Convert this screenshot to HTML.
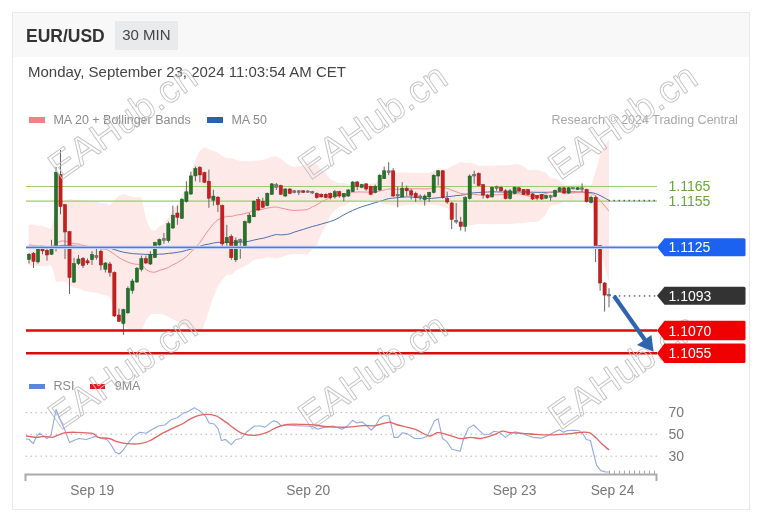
<!DOCTYPE html>
<html><head><meta charset="utf-8"><style>
*{margin:0;padding:0;box-sizing:border-box}
html,body{width:773px;height:518px;background:#fff;overflow:hidden;font-family:"Liberation Sans",Arial,sans-serif}
.card{position:absolute;left:12px;top:12px;width:738px;height:498px;border:1px solid #e9e9e9;background:#fff}
.hdr{position:absolute;left:13px;top:13px;width:736px;height:44px;background:#f8f8f9}
.t{position:absolute;white-space:nowrap;line-height:1}
svg{position:absolute;left:0;top:0}
svg text{font-family:"Liberation Sans",Arial,sans-serif}
</style></head><body>
<div class="card"></div>
<div class="hdr"></div>
<div class="t" style="left:115px;top:21px;width:63px;height:29px;background:#e9eaec"></div>
<div class="t" style="left:26px;top:28.3px;font-size:17.5px;font-weight:bold;color:#333">EUR/USD</div>
<div class="t" style="left:122.2px;top:26.8px;font-size:15px;color:#444">30 MIN</div>
<div class="t" style="left:28px;top:64.1px;font-size:15px;color:#444">Monday, September 23, 2024 11:03:54 AM CET</div>
<div class="t" style="left:29px;top:117px;width:16px;height:6px;background:#f08484"></div>
<div class="t" style="left:53.4px;top:113.5px;font-size:12.5px;color:#8a8a8a">MA 20 + Bollinger Bands</div>
<div class="t" style="left:207px;top:117px;width:16px;height:6px;background:#2b63aa"></div>
<div class="t" style="left:231.4px;top:113.5px;font-size:12.5px;color:#8a8a8a">MA 50</div>
<div class="t" style="left:551.5px;top:113.8px;font-size:12.5px;color:#a8a8a8">Research © 2024 Trading Central</div>
<div class="t" style="left:29px;top:383.8px;width:15.5px;height:5.5px;background:#5b86e0"></div>
<div class="t" style="left:53.6px;top:379.9px;font-size:12.5px;color:#8a8a8a">RSI</div>
<div class="t" style="left:89.7px;top:383.8px;width:15.8px;height:5.5px;background:#e8141c"></div>
<div class="t" style="left:114.7px;top:379.9px;font-size:12.5px;color:#8a8a8a">9MA</div>
<svg width="773" height="518" viewBox="0 0 773 518">
<defs><clipPath id="plot"><rect x="26" y="130" width="631" height="201"/></clipPath></defs>
<path d="M28.5,225.1 C28.6,225.1 28.2,225.2 29.0,225.1 C29.8,225.0 32.0,224.4 33.5,224.6 C35.0,224.7 36.5,225.7 38.0,225.9 C39.5,226.1 41.0,225.7 42.5,225.9 C44.0,226.2 45.5,227.2 47.0,227.4 C48.5,227.6 50.0,230.9 51.5,227.4 C53.0,223.8 54.5,210.5 56.0,206.1 C57.5,201.7 59.0,201.7 60.5,200.8 C62.0,199.9 63.5,200.9 65.0,200.6 C66.5,200.3 68.0,199.2 69.5,199.1 C71.0,198.9 72.5,199.7 74.0,199.8 C75.5,199.9 77.0,199.6 78.5,199.7 C80.0,199.9 81.5,200.5 83.0,200.6 C84.5,200.8 86.0,200.4 87.5,200.6 C89.0,200.8 90.5,201.6 92.0,201.8 C93.4,202.0 94.9,201.6 96.4,201.8 C97.9,202.1 99.4,202.9 100.9,203.2 C102.4,203.4 103.9,203.0 105.4,203.3 C106.9,203.5 108.4,205.3 109.9,204.7 C111.4,204.1 112.9,201.3 114.4,199.9 C115.9,198.4 117.4,196.8 118.9,195.9 C120.4,194.9 121.9,194.3 123.4,194.2 C124.9,194.2 126.4,195.0 127.9,195.4 C129.4,195.8 130.9,196.3 132.4,196.7 C133.9,197.0 135.4,197.2 136.9,197.4 C138.4,197.7 139.9,194.8 141.4,198.3 C142.9,201.7 144.4,212.9 145.9,218.0 C147.4,223.0 148.9,226.3 150.4,228.4 C151.9,230.6 153.4,231.0 154.9,230.7 C156.4,230.4 157.9,227.8 159.4,226.6 C160.9,225.4 162.4,225.1 163.9,223.6 C165.4,222.1 166.9,220.0 168.4,217.8 C169.9,215.6 171.4,212.6 172.9,210.3 C174.4,208.1 175.9,206.7 177.4,204.2 C178.9,201.7 180.4,198.4 181.9,195.3 C183.4,192.2 184.9,189.2 186.4,185.5 C187.9,181.8 189.4,177.2 190.9,173.0 C192.4,168.9 193.9,164.2 195.4,160.5 C196.9,156.9 198.4,153.2 199.9,151.0 C201.4,148.8 202.9,147.6 204.4,147.3 C205.9,147.0 207.4,148.4 208.9,149.0 C210.4,149.6 211.9,150.4 213.4,151.0 C214.9,151.6 216.4,151.9 217.9,152.7 C219.4,153.5 220.9,155.0 222.3,155.9 C223.8,156.7 225.3,157.6 226.8,158.0 C228.3,158.3 229.8,157.8 231.3,158.1 C232.8,158.4 234.3,159.3 235.8,159.8 C237.3,160.2 238.8,160.5 240.3,160.7 C241.8,160.9 243.3,161.0 244.8,161.1 C246.3,161.1 247.8,161.3 249.3,161.2 C250.8,161.1 252.3,160.8 253.8,160.7 C255.3,160.6 256.8,160.5 258.3,160.4 C259.8,160.3 261.3,160.4 262.8,160.1 C264.3,159.8 265.8,159.1 267.3,158.6 C268.8,158.0 270.3,157.2 271.8,156.8 C273.3,156.4 274.8,155.9 276.3,156.3 C277.8,156.6 279.3,157.8 280.8,158.8 C282.3,159.9 283.8,161.3 285.3,162.4 C286.8,163.5 288.3,164.6 289.8,165.4 C291.3,166.1 292.8,166.8 294.3,166.9 C295.8,167.1 297.3,166.5 298.8,166.3 C300.3,166.1 301.8,166.1 303.3,165.8 C304.8,165.5 306.3,164.8 307.8,164.6 C309.3,164.3 310.8,164.4 312.3,164.4 C313.8,164.5 315.3,163.8 316.8,164.7 C318.3,165.6 319.8,168.4 321.3,169.7 C322.8,171.1 324.3,171.4 325.8,173.0 C327.3,174.6 328.8,177.7 330.3,179.1 C331.8,180.4 333.3,180.5 334.8,181.2 C336.3,181.8 337.8,182.8 339.3,183.1 C340.8,183.4 342.3,182.8 343.8,183.0 C345.3,183.2 346.8,184.1 348.3,184.3 C349.8,184.5 351.2,184.2 352.7,184.0 C354.2,183.8 355.7,183.4 357.2,183.3 C358.7,183.2 360.2,183.4 361.7,183.5 C363.2,183.5 364.7,183.7 366.2,183.7 C367.7,183.8 369.2,183.8 370.7,183.7 C372.2,183.7 373.7,184.0 375.2,183.3 C376.7,182.7 378.2,181.1 379.7,179.8 C381.2,178.5 382.7,176.8 384.2,175.7 C385.7,174.5 387.2,173.3 388.7,172.9 C390.2,172.4 391.7,172.8 393.2,172.8 C394.7,172.8 396.2,172.8 397.7,172.8 C399.2,172.8 400.7,172.6 402.2,172.6 C403.7,172.6 405.2,172.7 406.7,172.7 C408.2,172.8 409.7,172.8 411.2,172.8 C412.7,172.8 414.2,172.8 415.7,172.8 C417.2,172.8 418.7,172.8 420.2,172.8 C421.7,172.8 423.2,172.8 424.7,172.8 C426.2,172.8 427.7,173.1 429.2,172.8 C430.7,172.5 432.2,171.7 433.7,171.0 C435.2,170.3 436.7,168.9 438.2,168.5 C439.7,168.2 441.2,168.9 442.7,168.9 C444.2,168.9 445.7,169.1 447.2,168.7 C448.7,168.2 450.2,167.1 451.7,166.3 C453.2,165.6 454.7,165.0 456.2,164.3 C457.7,163.5 459.2,162.3 460.7,162.0 C462.2,161.8 463.7,162.6 465.2,162.7 C466.7,162.8 468.2,162.6 469.7,162.8 C471.2,163.0 472.7,163.3 474.2,163.8 C475.7,164.3 477.2,165.5 478.7,165.8 C480.1,166.1 481.6,165.7 483.1,165.7 C484.6,165.7 486.1,165.8 487.6,165.8 C489.1,165.8 490.6,165.8 492.1,165.7 C493.6,165.7 495.1,165.6 496.6,165.5 C498.1,165.4 499.6,165.3 501.1,165.3 C502.6,165.2 504.1,165.3 505.6,165.3 C507.1,165.2 508.6,165.1 510.1,164.9 C511.6,164.8 513.1,164.5 514.6,164.3 C516.1,164.2 517.6,163.9 519.1,164.2 C520.6,164.6 522.1,165.5 523.6,166.5 C525.1,167.4 526.6,169.3 528.1,169.9 C529.6,170.5 531.1,169.9 532.6,169.9 C534.1,169.9 535.6,169.7 537.1,169.9 C538.6,170.1 540.1,170.5 541.6,171.1 C543.1,171.7 544.6,172.1 546.1,173.3 C547.6,174.5 549.1,177.6 550.6,178.4 C552.1,179.3 553.6,177.9 555.1,178.3 C556.6,178.7 558.1,179.8 559.6,180.8 C561.1,181.8 562.6,183.8 564.1,184.4 C565.6,185.1 567.1,184.9 568.6,184.9 C570.1,184.9 571.6,184.6 573.1,184.4 C574.6,184.2 576.1,183.9 577.6,183.9 C579.1,183.9 580.6,184.2 582.1,184.2 C583.6,184.3 585.1,184.2 586.6,184.2 C588.1,184.2 589.6,186.6 591.1,184.4 C592.6,182.3 594.1,176.1 595.6,171.3 C597.1,166.4 598.6,159.7 600.1,155.4 C601.6,151.1 603.1,147.9 604.6,145.3 C606.1,142.6 608.3,140.4 609.0,139.4 L609.0,282.8 C608.3,280.1 606.1,272.7 604.6,266.5 C603.1,260.3 601.6,253.2 600.1,245.6 C598.6,237.9 597.1,227.7 595.6,220.5 C594.1,213.3 592.6,205.6 591.1,202.6 C589.6,199.5 588.1,202.4 586.6,202.1 C585.1,201.8 583.6,201.0 582.1,200.8 C580.6,200.6 579.1,200.8 577.6,200.9 C576.1,201.0 574.6,201.3 573.1,201.4 C571.6,201.5 570.1,201.5 568.6,201.6 C567.1,201.6 565.6,201.4 564.1,201.8 C562.6,202.1 561.1,203.2 559.6,203.7 C558.1,204.2 556.6,204.7 555.1,205.0 C553.6,205.4 552.1,204.2 550.6,205.6 C549.1,207.1 547.6,211.5 546.1,213.7 C544.6,215.8 543.1,217.2 541.6,218.5 C540.1,219.9 538.6,221.2 537.1,221.8 C535.6,222.4 534.1,222.1 532.6,222.1 C531.1,222.2 529.6,221.9 528.1,222.0 C526.6,222.2 525.1,222.8 523.6,223.1 C522.1,223.3 520.6,223.3 519.1,223.3 C517.6,223.4 516.1,223.3 514.6,223.4 C513.1,223.5 511.6,223.6 510.1,223.7 C508.6,223.8 507.1,224.0 505.6,224.0 C504.1,224.1 502.6,223.9 501.1,224.0 C499.6,224.0 498.1,224.1 496.6,224.1 C495.1,224.2 493.6,224.1 492.1,224.2 C490.6,224.2 489.1,224.2 487.6,224.2 C486.1,224.1 484.6,224.1 483.1,224.0 C481.6,224.0 480.1,224.0 478.7,224.1 C477.2,224.2 475.7,224.6 474.2,224.8 C472.7,225.0 471.2,225.2 469.7,225.2 C468.2,225.3 466.7,225.4 465.2,225.3 C463.7,225.2 462.2,225.8 460.7,224.8 C459.2,223.9 457.7,221.2 456.2,219.4 C454.7,217.6 453.2,215.9 451.7,214.0 C450.2,212.1 448.7,209.5 447.2,208.2 C445.7,207.0 444.2,206.9 442.7,206.4 C441.2,205.9 439.7,205.5 438.2,205.2 C436.7,204.9 435.2,204.8 433.7,204.7 C432.2,204.6 430.7,204.6 429.2,204.7 C427.7,204.8 426.2,205.1 424.7,205.1 C423.2,205.1 421.7,204.7 420.2,204.6 C418.7,204.5 417.2,204.6 415.7,204.6 C414.2,204.6 412.7,204.6 411.2,204.6 C409.7,204.7 408.2,204.7 406.7,204.9 C405.2,205.0 403.7,205.5 402.2,205.7 C400.7,205.8 399.2,206.0 397.7,206.0 C396.2,206.0 394.7,205.7 393.2,205.6 C391.7,205.4 390.2,205.4 388.7,205.1 C387.2,204.9 385.7,204.8 384.2,204.3 C382.7,203.9 381.2,203.0 379.7,202.4 C378.2,201.8 376.7,201.0 375.2,200.7 C373.7,200.4 372.2,200.6 370.7,200.5 C369.2,200.5 367.7,200.5 366.2,200.5 C364.7,200.5 363.2,200.6 361.7,200.6 C360.2,200.6 358.7,200.7 357.2,200.7 C355.7,200.7 354.2,200.3 352.7,200.7 C351.2,201.1 349.8,202.0 348.3,202.9 C346.8,203.8 345.3,205.5 343.8,206.2 C342.3,206.8 340.8,206.1 339.3,206.9 C337.8,207.7 336.3,209.3 334.8,210.8 C333.3,212.3 331.8,213.3 330.3,215.8 C328.8,218.4 327.3,223.3 325.8,226.3 C324.3,229.3 322.8,230.8 321.3,233.9 C319.8,237.0 318.3,242.4 316.8,245.0 C315.3,247.5 313.8,247.7 312.3,249.2 C310.8,250.8 309.3,253.4 307.8,254.2 C306.3,255.0 304.8,254.2 303.3,254.2 C301.8,254.2 300.3,254.1 298.8,254.1 C297.3,254.1 295.8,253.9 294.3,254.0 C292.8,254.1 291.3,254.3 289.8,254.5 C288.3,254.8 286.8,255.2 285.3,255.7 C283.8,256.1 282.3,256.8 280.8,257.2 C279.3,257.6 277.8,257.8 276.3,257.9 C274.8,258.0 273.3,257.9 271.8,257.8 C270.3,257.8 268.8,257.5 267.3,257.6 C265.8,257.7 264.3,258.3 262.8,258.5 C261.3,258.7 259.8,258.7 258.3,258.9 C256.8,259.2 255.3,259.3 253.8,260.0 C252.3,260.8 250.8,262.5 249.3,263.5 C247.8,264.5 246.3,265.2 244.8,266.1 C243.3,266.9 241.8,267.8 240.3,268.5 C238.8,269.3 237.3,269.7 235.8,270.7 C234.3,271.7 232.8,274.0 231.3,274.7 C229.8,275.3 228.3,274.0 226.8,274.9 C225.3,275.7 223.8,278.0 222.3,280.0 C220.9,282.0 219.4,284.1 217.9,286.9 C216.4,289.7 214.9,293.1 213.4,297.0 C211.9,300.9 210.4,305.8 208.9,310.3 C207.4,314.9 205.9,320.4 204.4,324.3 C202.9,328.3 201.4,332.3 199.9,334.0 C198.4,335.6 196.9,334.7 195.4,334.2 C193.9,333.8 192.4,332.3 190.9,331.2 C189.4,330.1 187.9,328.7 186.4,327.6 C184.9,326.5 183.4,325.5 181.9,324.4 C180.4,323.3 178.9,321.8 177.4,321.0 C175.9,320.2 174.4,320.1 172.9,319.5 C171.4,318.8 169.9,317.8 168.4,317.0 C166.9,316.2 165.4,315.2 163.9,314.8 C162.4,314.3 160.9,314.3 159.4,314.1 C157.9,313.9 156.4,313.6 154.9,313.7 C153.4,313.9 151.9,313.8 150.4,314.9 C148.9,316.1 147.4,317.9 145.9,320.6 C144.4,323.3 142.9,329.5 141.4,331.3 C139.9,333.0 138.4,331.2 136.9,331.1 C135.4,331.0 133.9,330.9 132.4,330.5 C130.9,330.1 129.4,329.5 127.9,328.7 C126.4,328.0 124.9,327.4 123.4,325.8 C121.9,324.3 120.4,322.3 118.9,319.4 C117.4,316.5 115.9,312.3 114.4,308.7 C112.9,305.1 111.4,299.9 109.9,297.7 C108.4,295.4 106.9,295.8 105.4,295.2 C103.9,294.7 102.4,294.8 100.9,294.4 C99.4,294.0 97.9,293.0 96.4,292.7 C94.9,292.3 93.4,292.5 92.0,292.3 C90.5,292.2 89.0,291.8 87.5,291.5 C86.0,291.2 84.5,291.1 83.0,290.6 C81.5,290.0 80.0,288.8 78.5,288.3 C77.0,287.8 75.5,288.2 74.0,287.8 C72.5,287.3 71.0,286.5 69.5,285.5 C68.0,284.5 66.5,282.3 65.0,281.6 C63.5,281.0 62.0,281.8 60.5,281.7 C59.0,281.6 57.5,283.7 56.0,281.1 C54.5,278.5 53.0,268.4 51.5,266.0 C50.0,263.5 48.5,266.5 47.0,266.5 C45.5,266.5 44.0,265.9 42.5,265.9 C41.0,265.8 39.5,266.2 38.0,266.2 C36.5,266.3 35.0,266.4 33.5,266.2 C32.0,266.0 29.8,265.2 29.0,264.9 C28.2,264.7 28.6,264.9 28.5,264.9 Z" fill="#fee9e9" clip-path="url(#plot)"/><path d="M29.0,247.7 C29.7,247.7 32.0,247.9 33.5,247.9 C35.0,248.0 36.5,247.9 38.0,247.9 C39.5,247.9 41.0,247.9 42.5,247.9 C44.0,248.0 45.5,248.0 47.0,248.0 C48.5,248.1 50.0,248.3 51.5,248.0 C53.0,247.8 54.5,246.9 56.0,246.5 C57.5,246.1 59.0,245.8 60.5,245.6 C62.0,245.4 63.5,245.2 65.0,245.3 C66.5,245.3 68.0,245.7 69.5,245.8 C71.0,246.0 72.5,246.0 74.0,246.1 C75.5,246.2 77.0,246.2 78.5,246.3 C80.0,246.4 81.5,246.5 83.0,246.6 C84.5,246.7 86.0,246.8 87.5,246.9 C89.0,247.0 90.5,246.9 92.0,247.0 C93.4,247.0 94.9,247.1 96.4,247.2 C97.9,247.2 99.4,247.4 100.9,247.5 C102.4,247.6 103.9,247.6 105.4,247.7 C106.9,247.9 108.4,247.9 109.9,248.2 C111.4,248.5 112.9,249.1 114.4,249.5 C115.9,250.0 117.4,250.5 118.9,251.0 C120.4,251.4 121.9,251.8 123.4,252.2 C124.9,252.5 126.4,252.7 127.9,252.9 C129.4,253.2 130.9,253.4 132.4,253.6 C133.9,253.7 135.4,253.8 136.9,253.9 C138.4,254.0 139.9,254.0 141.4,254.1 C142.9,254.2 144.4,254.3 145.9,254.4 C147.4,254.5 148.9,254.5 150.4,254.5 C151.9,254.5 153.4,254.4 154.9,254.4 C156.4,254.3 157.9,254.2 159.4,254.2 C160.9,254.1 162.4,254.1 163.9,254.0 C165.4,253.8 166.9,253.5 168.4,253.4 C169.9,253.2 171.4,253.2 172.9,253.0 C174.4,252.8 175.9,252.5 177.4,252.3 C178.9,252.0 180.4,251.9 181.9,251.6 C183.4,251.2 184.9,250.7 186.4,250.3 C187.9,249.9 189.4,249.6 190.9,249.2 C192.4,248.7 193.9,247.9 195.4,247.5 C196.9,247.0 198.4,246.7 199.9,246.3 C201.4,245.8 202.9,245.2 204.4,244.8 C205.9,244.5 207.4,244.4 208.9,244.1 C210.4,243.8 211.9,243.3 213.4,243.0 C214.9,242.7 216.4,242.5 217.9,242.4 C219.4,242.2 220.9,242.2 222.3,242.2 C223.8,242.2 225.3,242.2 226.8,242.2 C228.3,242.3 229.8,242.3 231.3,242.3 C232.8,242.4 234.3,242.5 235.8,242.5 C237.3,242.4 238.8,242.3 240.3,242.2 C241.8,242.1 243.3,242.1 244.8,242.0 C246.3,241.8 247.8,241.5 249.3,241.2 C250.8,240.9 252.3,240.5 253.8,240.1 C255.3,239.8 256.8,239.4 258.3,239.1 C259.8,238.8 261.3,238.6 262.8,238.3 C264.3,238.0 265.8,237.6 267.3,237.1 C268.8,236.7 270.3,236.2 271.8,235.7 C273.3,235.3 274.8,234.6 276.3,234.5 C277.8,234.4 279.3,234.9 280.8,234.9 C282.3,234.9 283.8,234.8 285.3,234.6 C286.8,234.4 288.3,234.2 289.8,233.8 C291.3,233.4 292.8,232.6 294.3,232.1 C295.8,231.6 297.3,231.1 298.8,230.7 C300.3,230.2 301.8,229.8 303.3,229.4 C304.8,228.9 306.3,228.4 307.8,227.9 C309.3,227.4 310.8,226.9 312.3,226.5 C313.8,226.1 315.3,225.7 316.8,225.4 C318.3,225.0 319.8,224.6 321.3,224.1 C322.8,223.7 324.3,223.2 325.8,222.8 C327.3,222.4 328.8,222.0 330.3,221.5 C331.8,221.0 333.3,220.5 334.8,219.9 C336.3,219.2 337.8,218.3 339.3,217.5 C340.8,216.6 342.3,215.7 343.8,214.9 C345.3,214.1 346.8,213.3 348.3,212.5 C349.8,211.8 351.2,211.1 352.7,210.4 C354.2,209.7 355.7,209.1 357.2,208.5 C358.7,207.9 360.2,207.3 361.7,206.8 C363.2,206.3 364.7,205.9 366.2,205.4 C367.7,205.0 369.2,204.5 370.7,204.1 C372.2,203.6 373.7,203.2 375.2,202.7 C376.7,202.3 378.2,201.8 379.7,201.4 C381.2,200.9 382.7,200.4 384.2,200.0 C385.7,199.5 387.2,198.9 388.7,198.6 C390.2,198.3 391.7,198.2 393.2,198.1 C394.7,197.9 396.2,197.8 397.7,197.7 C399.2,197.5 400.7,197.2 402.2,197.1 C403.7,197.0 405.2,196.9 406.7,196.9 C408.2,196.9 409.7,196.9 411.2,197.0 C412.7,197.1 414.2,197.3 415.7,197.4 C417.2,197.6 418.7,197.9 420.2,198.0 C421.7,198.2 423.2,198.3 424.7,198.4 C426.2,198.5 427.7,198.7 429.2,198.6 C430.7,198.6 432.2,198.3 433.7,198.2 C435.2,198.0 436.7,197.8 438.2,197.7 C439.7,197.6 441.2,197.7 442.7,197.5 C444.2,197.4 445.7,196.9 447.2,196.7 C448.7,196.5 450.2,196.5 451.7,196.3 C453.2,196.2 454.7,195.8 456.2,195.6 C457.7,195.5 459.2,195.5 460.7,195.3 C462.2,195.1 463.7,194.8 465.2,194.5 C466.7,194.2 468.2,193.8 469.7,193.5 C471.2,193.3 472.7,192.9 474.2,192.8 C475.7,192.6 477.2,192.6 478.7,192.5 C480.1,192.4 481.6,192.2 483.1,192.2 C484.6,192.1 486.1,192.0 487.6,192.0 C489.1,191.9 490.6,191.8 492.1,191.8 C493.6,191.8 495.1,191.9 496.6,191.9 C498.1,192.0 499.6,192.0 501.1,192.0 C502.6,192.0 504.1,192.1 505.6,192.1 C507.1,192.1 508.6,192.1 510.1,192.1 C511.6,192.1 513.1,192.0 514.6,192.0 C516.1,192.0 517.6,192.0 519.1,192.0 C520.6,192.0 522.1,192.0 523.6,192.0 C525.1,192.0 526.6,192.0 528.1,192.1 C529.6,192.1 531.1,192.2 532.6,192.2 C534.1,192.2 535.6,192.3 537.1,192.3 C538.6,192.3 540.1,192.3 541.6,192.3 C543.1,192.3 544.6,192.3 546.1,192.3 C547.6,192.3 549.1,192.3 550.6,192.3 C552.1,192.3 553.6,192.2 555.1,192.1 C556.6,192.1 558.1,192.1 559.6,192.1 C561.1,192.0 562.6,192.0 564.1,192.0 C565.6,192.0 567.1,191.9 568.6,191.9 C570.1,191.9 571.6,191.9 573.1,191.9 C574.6,191.9 576.1,192.0 577.6,192.0 C579.1,192.0 580.6,192.0 582.1,192.0 C583.6,192.1 585.1,192.3 586.6,192.4 C588.1,192.5 589.6,192.4 591.1,192.6 C592.6,192.8 594.1,193.1 595.6,193.6 C597.1,194.1 598.6,194.8 600.1,195.5 C601.6,196.2 603.1,197.1 604.6,197.9 C606.1,198.7 608.3,200.0 609.0,200.4" fill="none" stroke="#4a6fb0" stroke-width="1" clip-path="url(#plot)"/><path d="M29.0,245.0 C29.7,245.1 32.0,245.2 33.5,245.4 C35.0,245.6 36.5,246.0 38.0,246.1 C39.5,246.1 41.0,245.7 42.5,245.9 C44.0,246.0 45.5,246.8 47.0,246.9 C48.5,247.1 50.0,247.2 51.5,246.7 C53.0,246.1 54.5,244.5 56.0,243.6 C57.5,242.7 59.0,241.6 60.5,241.2 C62.0,240.8 63.5,240.9 65.0,241.1 C66.5,241.3 68.0,241.9 69.5,242.3 C71.0,242.7 72.5,243.5 74.0,243.8 C75.5,244.1 77.0,243.7 78.5,244.0 C80.0,244.3 81.5,245.3 83.0,245.6 C84.5,245.9 86.0,245.8 87.5,246.1 C89.0,246.3 90.5,246.9 92.0,247.1 C93.4,247.3 94.9,247.0 96.4,247.2 C97.9,247.5 99.4,248.5 100.9,248.8 C102.4,249.1 103.9,248.9 105.4,249.2 C106.9,249.6 108.4,250.3 109.9,251.2 C111.4,252.0 112.9,253.2 114.4,254.3 C115.9,255.3 117.4,256.7 118.9,257.6 C120.4,258.6 121.9,259.3 123.4,260.0 C124.9,260.8 126.4,261.5 127.9,262.1 C129.4,262.7 130.9,263.2 132.4,263.6 C133.9,264.0 135.4,264.1 136.9,264.3 C138.4,264.4 139.9,263.9 141.4,264.8 C142.9,265.6 144.4,268.1 145.9,269.3 C147.4,270.4 148.9,271.2 150.4,271.7 C151.9,272.2 153.4,272.4 154.9,272.2 C156.4,272.0 157.9,270.8 159.4,270.3 C160.9,269.8 162.4,269.7 163.9,269.2 C165.4,268.7 166.9,268.1 168.4,267.4 C169.9,266.7 171.4,265.7 172.9,264.9 C174.4,264.1 175.9,263.4 177.4,262.6 C178.9,261.8 180.4,260.9 181.9,259.9 C183.4,258.8 184.9,257.9 186.4,256.6 C187.9,255.3 189.4,253.6 190.9,252.1 C192.4,250.6 193.9,249.0 195.4,247.4 C196.9,245.8 198.4,244.4 199.9,242.5 C201.4,240.6 202.9,238.0 204.4,235.8 C205.9,233.7 207.4,231.6 208.9,229.7 C210.4,227.7 211.9,225.6 213.4,224.0 C214.9,222.3 216.4,220.8 217.9,219.8 C219.4,218.8 220.9,218.5 222.3,217.9 C223.8,217.4 225.3,216.7 226.8,216.4 C228.3,216.1 229.8,216.6 231.3,216.4 C232.8,216.2 234.3,215.5 235.8,215.2 C237.3,215.0 238.8,214.9 240.3,214.6 C241.8,214.3 243.3,213.9 244.8,213.6 C246.3,213.2 247.8,212.9 249.3,212.3 C250.8,211.8 252.3,210.8 253.8,210.4 C255.3,209.9 256.8,209.9 258.3,209.7 C259.8,209.5 261.3,209.6 262.8,209.3 C264.3,209.0 265.8,208.4 267.3,208.1 C268.8,207.8 270.3,207.5 271.8,207.3 C273.3,207.2 274.8,207.0 276.3,207.1 C277.8,207.2 279.3,207.7 280.8,208.0 C282.3,208.3 283.8,208.7 285.3,209.0 C286.8,209.4 288.3,209.7 289.8,210.0 C291.3,210.2 292.8,210.4 294.3,210.5 C295.8,210.5 297.3,210.3 298.8,210.2 C300.3,210.1 301.8,210.1 303.3,210.0 C304.8,209.9 306.3,209.9 307.8,209.4 C309.3,208.9 310.8,207.6 312.3,206.8 C313.8,206.1 315.3,205.7 316.8,204.8 C318.3,204.0 319.8,202.7 321.3,201.8 C322.8,200.9 324.3,200.4 325.8,199.7 C327.3,198.9 328.8,198.1 330.3,197.5 C331.8,196.8 333.3,196.4 334.8,196.0 C336.3,195.6 337.8,195.2 339.3,195.0 C340.8,194.8 342.3,194.8 343.8,194.6 C345.3,194.4 346.8,194.0 348.3,193.6 C349.8,193.2 351.2,192.6 352.7,192.3 C354.2,192.1 355.7,192.1 357.2,192.0 C358.7,191.9 360.2,192.0 361.7,192.0 C363.2,192.1 364.7,192.1 366.2,192.1 C367.7,192.1 369.2,192.1 370.7,192.1 C372.2,192.1 373.7,192.2 375.2,192.0 C376.7,191.8 378.2,191.4 379.7,191.1 C381.2,190.8 382.7,190.4 384.2,190.0 C385.7,189.7 387.2,189.1 388.7,189.0 C390.2,188.9 391.7,189.1 393.2,189.2 C394.7,189.3 396.2,189.4 397.7,189.4 C399.2,189.4 400.7,189.2 402.2,189.1 C403.7,189.0 405.2,188.9 406.7,188.8 C408.2,188.7 409.7,188.7 411.2,188.7 C412.7,188.7 414.2,188.7 415.7,188.7 C417.2,188.7 418.7,188.7 420.2,188.7 C421.7,188.7 423.2,188.9 424.7,188.9 C426.2,188.9 427.7,188.9 429.2,188.8 C430.7,188.6 432.2,188.2 433.7,187.8 C435.2,187.5 436.7,186.9 438.2,186.9 C439.7,186.9 441.2,187.4 442.7,187.7 C444.2,187.9 445.7,188.0 447.2,188.4 C448.7,188.9 450.2,189.6 451.7,190.2 C453.2,190.7 454.7,191.3 456.2,191.8 C457.7,192.4 459.2,193.1 460.7,193.4 C462.2,193.8 463.7,193.9 465.2,194.0 C466.7,194.1 468.2,194.0 469.7,194.0 C471.2,194.1 472.7,194.1 474.2,194.3 C475.7,194.4 477.2,194.8 478.7,194.9 C480.1,195.0 481.6,194.9 483.1,194.9 C484.6,194.9 486.1,195.0 487.6,195.0 C489.1,195.0 490.6,195.0 492.1,194.9 C493.6,194.9 495.1,194.9 496.6,194.8 C498.1,194.8 499.6,194.6 501.1,194.6 C502.6,194.6 504.1,194.7 505.6,194.7 C507.1,194.6 508.6,194.4 510.1,194.3 C511.6,194.2 513.1,194.0 514.6,193.9 C516.1,193.8 517.6,193.6 519.1,193.8 C520.6,193.9 522.1,194.4 523.6,194.8 C525.1,195.1 526.6,195.7 528.1,196.0 C529.6,196.2 531.1,196.0 532.6,196.0 C534.1,196.0 535.6,196.0 537.1,195.8 C538.6,195.6 540.1,195.2 541.6,194.8 C543.1,194.4 544.6,194.0 546.1,193.5 C547.6,193.0 549.1,192.3 550.6,192.0 C552.1,191.7 553.6,191.6 555.1,191.7 C556.6,191.7 558.1,192.0 559.6,192.3 C561.1,192.5 562.6,193.0 564.1,193.1 C565.6,193.3 567.1,193.3 568.6,193.2 C570.1,193.2 571.6,193.0 573.1,192.9 C574.6,192.8 576.1,192.5 577.6,192.4 C579.1,192.3 580.6,192.4 582.1,192.5 C583.6,192.6 585.1,193.0 586.6,193.2 C588.1,193.3 589.6,193.1 591.1,193.5 C592.6,194.0 594.1,194.7 595.6,195.9 C597.1,197.0 598.6,198.8 600.1,200.5 C601.6,202.2 603.1,204.1 604.6,205.9 C606.1,207.6 608.3,210.3 609.0,211.1" fill="none" stroke="#f09090" stroke-width="1" clip-path="url(#plot)"/><line x1="26" y1="186.5" x2="657" y2="186.5" stroke="#9ccc65" stroke-width="1.2"/><line x1="26" y1="201.2" x2="657" y2="201.2" stroke="#9ccc65" stroke-width="1.2"/><g stroke="#666" stroke-width="1"><line x1="29.0" y1="253.0" x2="29.0" y2="263.6"/><line x1="33.5" y1="252.0" x2="33.5" y2="268.0"/><line x1="38.0" y1="246.0" x2="38.0" y2="263.6"/><line x1="42.5" y1="246.5" x2="42.5" y2="254.3"/><line x1="47.0" y1="248.0" x2="47.0" y2="260.7"/><line x1="51.5" y1="239.8" x2="51.5" y2="255.0"/><line x1="56.0" y1="167.0" x2="56.0" y2="251.4"/><line x1="60.5" y1="150.0" x2="60.5" y2="214.3"/><line x1="65.0" y1="204.0" x2="65.0" y2="259.0"/><line x1="69.5" y1="231.0" x2="69.5" y2="294.0"/><line x1="74.0" y1="257.8" x2="74.0" y2="283.0"/><line x1="78.5" y1="255.0" x2="78.5" y2="265.0"/><line x1="83.0" y1="257.0" x2="83.0" y2="268.0"/><line x1="87.5" y1="258.5" x2="87.5" y2="265.0"/><line x1="92.0" y1="251.2" x2="92.0" y2="265.0"/><line x1="96.4" y1="249.0" x2="96.4" y2="259.7"/><line x1="100.9" y1="249.5" x2="100.9" y2="270.3"/><line x1="105.4" y1="262.0" x2="105.4" y2="272.5"/><line x1="109.9" y1="261.8" x2="109.9" y2="276.7"/><line x1="114.4" y1="271.4" x2="114.4" y2="317.0"/><line x1="118.9" y1="308.6" x2="118.9" y2="322.0"/><line x1="123.4" y1="308.6" x2="123.4" y2="335.0"/><line x1="127.9" y1="286.3" x2="127.9" y2="314.0"/><line x1="132.4" y1="278.8" x2="132.4" y2="293.7"/><line x1="136.9" y1="267.0" x2="136.9" y2="283.0"/><line x1="141.4" y1="255.5" x2="141.4" y2="271.4"/><line x1="145.9" y1="255.5" x2="145.9" y2="264.0"/><line x1="150.4" y1="251.2" x2="150.4" y2="265.0"/><line x1="154.9" y1="241.7" x2="154.9" y2="258.0"/><line x1="159.4" y1="238.5" x2="159.4" y2="249.0"/><line x1="163.9" y1="233.0" x2="163.9" y2="243.8"/><line x1="168.4" y1="221.6" x2="168.4" y2="242.7"/><line x1="172.9" y1="205.6" x2="172.9" y2="229.0"/><line x1="177.4" y1="205.6" x2="177.4" y2="224.8"/><line x1="181.9" y1="198.2" x2="181.9" y2="219.0"/><line x1="186.4" y1="181.2" x2="186.4" y2="202.5"/><line x1="190.9" y1="171.7" x2="190.9" y2="195.0"/><line x1="195.4" y1="166.4" x2="195.4" y2="181.2"/><line x1="199.9" y1="166.0" x2="199.9" y2="182.3"/><line x1="204.4" y1="171.7" x2="204.4" y2="183.0"/><line x1="208.9" y1="169.6" x2="208.9" y2="207.8"/><line x1="213.4" y1="189.7" x2="213.4" y2="205.6"/><line x1="217.9" y1="196.0" x2="217.9" y2="212.0"/><line x1="222.3" y1="204.5" x2="222.3" y2="247.0"/><line x1="226.8" y1="224.8" x2="226.8" y2="247.0"/><line x1="231.3" y1="234.3" x2="231.3" y2="259.8"/><line x1="235.8" y1="237.5" x2="235.8" y2="262.0"/><line x1="240.3" y1="238.5" x2="240.3" y2="258.7"/><line x1="244.8" y1="220.5" x2="244.8" y2="248.0"/><line x1="249.3" y1="213.0" x2="249.3" y2="223.7"/><line x1="253.8" y1="200.3" x2="253.8" y2="217.0"/><line x1="258.3" y1="196.9" x2="258.3" y2="210.8"/><line x1="262.8" y1="197.7" x2="262.8" y2="208.2"/><line x1="267.3" y1="192.5" x2="267.3" y2="206.4"/><line x1="271.8" y1="183.0" x2="271.8" y2="195.0"/><line x1="276.3" y1="183.0" x2="276.3" y2="190.0"/><line x1="280.8" y1="184.7" x2="280.8" y2="195.1"/><line x1="285.3" y1="188.2" x2="285.3" y2="196.9"/><line x1="289.8" y1="188.2" x2="289.8" y2="194.3"/><line x1="294.3" y1="190.0" x2="294.3" y2="193.4"/><line x1="298.8" y1="190.0" x2="298.8" y2="195.1"/><line x1="303.3" y1="190.0" x2="303.3" y2="193.0"/><line x1="307.8" y1="190.0" x2="307.8" y2="193.0"/><line x1="312.3" y1="190.8" x2="312.3" y2="194.0"/><line x1="316.8" y1="192.5" x2="316.8" y2="198.6"/><line x1="321.3" y1="193.4" x2="321.3" y2="197.7"/><line x1="325.8" y1="193.4" x2="325.8" y2="198.0"/><line x1="330.3" y1="192.5" x2="330.3" y2="199.5"/><line x1="334.8" y1="190.0" x2="334.8" y2="198.6"/><line x1="339.3" y1="190.8" x2="339.3" y2="197.7"/><line x1="343.8" y1="193.0" x2="343.8" y2="201.2"/><line x1="348.3" y1="189.0" x2="348.3" y2="196.9"/><line x1="352.7" y1="181.2" x2="352.7" y2="192.0"/><line x1="357.2" y1="180.9" x2="357.2" y2="190.0"/><line x1="361.7" y1="183.9" x2="361.7" y2="188.2"/><line x1="366.2" y1="183.0" x2="366.2" y2="190.8"/><line x1="370.7" y1="185.6" x2="370.7" y2="195.1"/><line x1="375.2" y1="184.7" x2="375.2" y2="193.4"/><line x1="379.7" y1="174.3" x2="379.7" y2="190.8"/><line x1="384.2" y1="166.5" x2="384.2" y2="179.0"/><line x1="388.7" y1="162.2" x2="388.7" y2="175.2"/><line x1="393.2" y1="168.2" x2="393.2" y2="196.9"/><line x1="397.7" y1="186.5" x2="397.7" y2="207.3"/><line x1="402.2" y1="182.1" x2="402.2" y2="197.7"/><line x1="406.7" y1="185.6" x2="406.7" y2="196.0"/><line x1="411.2" y1="189.0" x2="411.2" y2="199.5"/><line x1="415.7" y1="191.7" x2="415.7" y2="202.0"/><line x1="420.2" y1="194.3" x2="420.2" y2="200.3"/><line x1="424.7" y1="194.3" x2="424.7" y2="205.6"/><line x1="429.2" y1="191.7" x2="429.2" y2="202.0"/><line x1="433.7" y1="174.3" x2="433.7" y2="193.4"/><line x1="438.2" y1="170.0" x2="438.2" y2="185.6"/><line x1="442.7" y1="170.0" x2="442.7" y2="198.6"/><line x1="447.2" y1="191.7" x2="447.2" y2="203.8"/><line x1="451.7" y1="202.0" x2="451.7" y2="229.0"/><line x1="456.2" y1="203.0" x2="456.2" y2="223.8"/><line x1="460.7" y1="216.8" x2="460.7" y2="230.7"/><line x1="465.2" y1="196.0" x2="465.2" y2="231.6"/><line x1="469.7" y1="174.3" x2="469.7" y2="199.5"/><line x1="474.2" y1="170.8" x2="474.2" y2="183.9"/><line x1="478.7" y1="172.5" x2="478.7" y2="186.5"/><line x1="483.1" y1="183.9" x2="483.1" y2="198.6"/><line x1="487.6" y1="194.3" x2="487.6" y2="198.6"/><line x1="492.1" y1="186.5" x2="492.1" y2="197.7"/><line x1="496.6" y1="185.6" x2="496.6" y2="190.8"/><line x1="501.1" y1="186.5" x2="501.1" y2="191.7"/><line x1="505.6" y1="189.0" x2="505.6" y2="199.5"/><line x1="510.1" y1="189.0" x2="510.1" y2="199.5"/><line x1="514.6" y1="186.5" x2="514.6" y2="194.3"/><line x1="519.1" y1="187.0" x2="519.1" y2="192.0"/><line x1="523.6" y1="189.0" x2="523.6" y2="195.0"/><line x1="528.1" y1="189.0" x2="528.1" y2="195.5"/><line x1="532.6" y1="193.0" x2="532.6" y2="200.0"/><line x1="537.1" y1="195.0" x2="537.1" y2="200.3"/><line x1="541.6" y1="193.9" x2="541.6" y2="200.0"/><line x1="546.1" y1="194.7" x2="546.1" y2="199.0"/><line x1="550.6" y1="194.7" x2="550.6" y2="200.8"/><line x1="555.1" y1="189.5" x2="555.1" y2="197.3"/><line x1="559.6" y1="187.0" x2="559.6" y2="192.0"/><line x1="564.1" y1="187.0" x2="564.1" y2="193.9"/><line x1="568.6" y1="187.0" x2="568.6" y2="193.9"/><line x1="573.1" y1="187.0" x2="573.1" y2="189.5"/><line x1="577.6" y1="187.0" x2="577.6" y2="190.0"/><line x1="582.1" y1="183.4" x2="582.1" y2="192.0"/><line x1="586.6" y1="188.7" x2="586.6" y2="202.5"/><line x1="591.1" y1="195.6" x2="591.1" y2="203.4"/><line x1="595.6" y1="195.6" x2="595.6" y2="262.0"/><line x1="600.1" y1="245.0" x2="600.1" y2="290.8"/><line x1="604.6" y1="282.0" x2="604.6" y2="311.6"/><line x1="609.0" y1="288.2" x2="609.0" y2="307.3"/></g><rect x="27.4" y="254.3" width="3.2" height="5.2" fill="#25722b" stroke="#1a5a1f" stroke-width="0.5"/><rect x="31.9" y="253.2" width="3.2" height="8.1" fill="#c81e1e" stroke="#9e1515" stroke-width="0.5"/><rect x="36.4" y="247.4" width="3.2" height="14.5" fill="#25722b" stroke="#1a5a1f" stroke-width="0.5"/><rect x="40.9" y="247.4" width="3.2" height="3.5" fill="#c81e1e" stroke="#9e1515" stroke-width="0.5"/><rect x="45.4" y="250.3" width="3.2" height="4.7" fill="#c81e1e" stroke="#9e1515" stroke-width="0.5"/><rect x="49.9" y="248.5" width="3.2" height="5.8" fill="#25722b" stroke="#1a5a1f" stroke-width="0.5"/><rect x="54.4" y="172.4" width="3.2" height="75.0" fill="#25722b" stroke="#1a5a1f" stroke-width="0.5"/><rect x="58.9" y="174.4" width="3.2" height="32.2" fill="#c81e1e" stroke="#9e1515" stroke-width="0.5"/><rect x="63.4" y="204.7" width="3.2" height="27.3" fill="#c81e1e" stroke="#9e1515" stroke-width="0.5"/><rect x="67.9" y="231.7" width="3.2" height="45.8" fill="#c81e1e" stroke="#9e1515" stroke-width="0.5"/><rect x="72.4" y="263.6" width="3.2" height="18.5" fill="#25722b" stroke="#1a5a1f" stroke-width="0.5"/><rect x="76.9" y="259.0" width="3.2" height="4.6" fill="#25722b" stroke="#1a5a1f" stroke-width="0.5"/><rect x="81.4" y="258.5" width="3.2" height="7.0" fill="#c81e1e" stroke="#9e1515" stroke-width="0.5"/><rect x="85.9" y="260.8" width="3.2" height="2.2" fill="#c81e1e" stroke="#9e1515" stroke-width="0.5"/><rect x="90.4" y="254.4" width="3.2" height="5.3" fill="#25722b" stroke="#1a5a1f" stroke-width="0.5"/><rect x="94.8" y="255.5" width="3.2" height="2.1" fill="#777" stroke="#666" stroke-width="0.5"/><rect x="99.3" y="251.2" width="3.2" height="13.8" fill="#c81e1e" stroke="#9e1515" stroke-width="0.5"/><rect x="103.8" y="263.0" width="3.2" height="6.3" fill="#25722b" stroke="#1a5a1f" stroke-width="0.5"/><rect x="108.3" y="264.0" width="3.2" height="8.5" fill="#c81e1e" stroke="#9e1515" stroke-width="0.5"/><rect x="112.8" y="272.5" width="3.2" height="43.5" fill="#c81e1e" stroke="#9e1515" stroke-width="0.5"/><rect x="117.3" y="315.0" width="3.2" height="6.3" fill="#c81e1e" stroke="#9e1515" stroke-width="0.5"/><rect x="121.8" y="309.6" width="3.2" height="13.8" fill="#25722b" stroke="#1a5a1f" stroke-width="0.5"/><rect x="126.3" y="288.4" width="3.2" height="24.4" fill="#25722b" stroke="#1a5a1f" stroke-width="0.5"/><rect x="130.8" y="281.0" width="3.2" height="9.5" fill="#25722b" stroke="#1a5a1f" stroke-width="0.5"/><rect x="135.3" y="268.2" width="3.2" height="13.8" fill="#25722b" stroke="#1a5a1f" stroke-width="0.5"/><rect x="139.8" y="258.7" width="3.2" height="10.6" fill="#25722b" stroke="#1a5a1f" stroke-width="0.5"/><rect x="144.3" y="258.7" width="3.2" height="4.3" fill="#c81e1e" stroke="#9e1515" stroke-width="0.5"/><rect x="148.8" y="254.4" width="3.2" height="9.6" fill="#25722b" stroke="#1a5a1f" stroke-width="0.5"/><rect x="153.3" y="242.7" width="3.2" height="14.9" fill="#25722b" stroke="#1a5a1f" stroke-width="0.5"/><rect x="157.8" y="239.6" width="3.2" height="5.3" fill="#25722b" stroke="#1a5a1f" stroke-width="0.5"/><rect x="162.3" y="238.5" width="3.2" height="2.1" fill="#777" stroke="#666" stroke-width="0.5"/><rect x="166.8" y="223.7" width="3.2" height="17.0" fill="#25722b" stroke="#1a5a1f" stroke-width="0.5"/><rect x="171.3" y="215.2" width="3.2" height="12.8" fill="#25722b" stroke="#1a5a1f" stroke-width="0.5"/><rect x="175.8" y="213.0" width="3.2" height="4.3" fill="#c81e1e" stroke="#9e1515" stroke-width="0.5"/><rect x="180.3" y="199.3" width="3.2" height="19.1" fill="#25722b" stroke="#1a5a1f" stroke-width="0.5"/><rect x="184.8" y="191.8" width="3.2" height="9.6" fill="#25722b" stroke="#1a5a1f" stroke-width="0.5"/><rect x="189.3" y="175.9" width="3.2" height="18.1" fill="#25722b" stroke="#1a5a1f" stroke-width="0.5"/><rect x="193.8" y="168.5" width="3.2" height="7.4" fill="#25722b" stroke="#1a5a1f" stroke-width="0.5"/><rect x="198.3" y="167.4" width="3.2" height="7.5" fill="#c81e1e" stroke="#9e1515" stroke-width="0.5"/><rect x="202.8" y="172.7" width="3.2" height="9.6" fill="#c81e1e" stroke="#9e1515" stroke-width="0.5"/><rect x="207.3" y="181.2" width="3.2" height="17.0" fill="#c81e1e" stroke="#9e1515" stroke-width="0.5"/><rect x="211.8" y="196.1" width="3.2" height="4.2" fill="#25722b" stroke="#1a5a1f" stroke-width="0.5"/><rect x="216.3" y="197.2" width="3.2" height="7.4" fill="#c81e1e" stroke="#9e1515" stroke-width="0.5"/><rect x="220.7" y="205.6" width="3.2" height="38.3" fill="#c81e1e" stroke="#9e1515" stroke-width="0.5"/><rect x="225.2" y="237.5" width="3.2" height="5.3" fill="#25722b" stroke="#1a5a1f" stroke-width="0.5"/><rect x="229.7" y="236.4" width="3.2" height="21.3" fill="#c81e1e" stroke="#9e1515" stroke-width="0.5"/><rect x="234.2" y="240.7" width="3.2" height="19.1" fill="#25722b" stroke="#1a5a1f" stroke-width="0.5"/><rect x="238.7" y="239.6" width="3.2" height="2.1" fill="#777" stroke="#666" stroke-width="0.5"/><rect x="243.2" y="221.6" width="3.2" height="25.4" fill="#25722b" stroke="#1a5a1f" stroke-width="0.5"/><rect x="247.7" y="215.2" width="3.2" height="7.4" fill="#25722b" stroke="#1a5a1f" stroke-width="0.5"/><rect x="252.2" y="201.2" width="3.2" height="15.6" fill="#25722b" stroke="#1a5a1f" stroke-width="0.5"/><rect x="256.7" y="199.5" width="3.2" height="10.5" fill="#c81e1e" stroke="#9e1515" stroke-width="0.5"/><rect x="261.2" y="201.2" width="3.2" height="6.1" fill="#c81e1e" stroke="#9e1515" stroke-width="0.5"/><rect x="265.7" y="193.4" width="3.2" height="12.2" fill="#25722b" stroke="#1a5a1f" stroke-width="0.5"/><rect x="270.2" y="183.9" width="3.2" height="10.4" fill="#25722b" stroke="#1a5a1f" stroke-width="0.5"/><rect x="274.7" y="184.7" width="3.2" height="2.6" fill="#777" stroke="#666" stroke-width="0.5"/><rect x="279.2" y="185.6" width="3.2" height="8.7" fill="#c81e1e" stroke="#9e1515" stroke-width="0.5"/><rect x="283.7" y="189.0" width="3.2" height="7.0" fill="#25722b" stroke="#1a5a1f" stroke-width="0.5"/><rect x="288.2" y="189.0" width="3.2" height="4.4" fill="#c81e1e" stroke="#9e1515" stroke-width="0.5"/><rect x="292.7" y="190.8" width="3.2" height="1.7" fill="#777" stroke="#666" stroke-width="0.5"/><rect x="297.2" y="190.8" width="3.2" height="1.7" fill="#777" stroke="#666" stroke-width="0.5"/><rect x="301.7" y="190.8" width="3.2" height="1.5" fill="#c81e1e" stroke="#9e1515" stroke-width="0.5"/><rect x="306.2" y="191.0" width="3.2" height="1.2" fill="#777" stroke="#666" stroke-width="0.5"/><rect x="310.7" y="191.7" width="3.2" height="1.3" fill="#777" stroke="#666" stroke-width="0.5"/><rect x="315.2" y="193.4" width="3.2" height="4.3" fill="#c81e1e" stroke="#9e1515" stroke-width="0.5"/><rect x="319.7" y="194.3" width="3.2" height="2.6" fill="#c81e1e" stroke="#9e1515" stroke-width="0.5"/><rect x="324.2" y="194.3" width="3.2" height="3.4" fill="#c81e1e" stroke="#9e1515" stroke-width="0.5"/><rect x="328.7" y="193.4" width="3.2" height="4.3" fill="#c81e1e" stroke="#9e1515" stroke-width="0.5"/><rect x="333.2" y="191.7" width="3.2" height="5.2" fill="#25722b" stroke="#1a5a1f" stroke-width="0.5"/><rect x="337.7" y="191.7" width="3.2" height="4.3" fill="#c81e1e" stroke="#9e1515" stroke-width="0.5"/><rect x="342.2" y="193.4" width="3.2" height="3.5" fill="#25722b" stroke="#1a5a1f" stroke-width="0.5"/><rect x="346.7" y="190.0" width="3.2" height="6.0" fill="#25722b" stroke="#1a5a1f" stroke-width="0.5"/><rect x="351.1" y="182.0" width="3.2" height="9.7" fill="#25722b" stroke="#1a5a1f" stroke-width="0.5"/><rect x="355.6" y="182.0" width="3.2" height="4.5" fill="#c81e1e" stroke="#9e1515" stroke-width="0.5"/><rect x="360.1" y="184.7" width="3.2" height="2.6" fill="#25722b" stroke="#1a5a1f" stroke-width="0.5"/><rect x="364.6" y="183.9" width="3.2" height="5.1" fill="#c81e1e" stroke="#9e1515" stroke-width="0.5"/><rect x="369.1" y="186.5" width="3.2" height="7.8" fill="#c81e1e" stroke="#9e1515" stroke-width="0.5"/><rect x="373.6" y="186.5" width="3.2" height="6.0" fill="#25722b" stroke="#1a5a1f" stroke-width="0.5"/><rect x="378.1" y="175.2" width="3.2" height="14.8" fill="#25722b" stroke="#1a5a1f" stroke-width="0.5"/><rect x="382.6" y="170.8" width="3.2" height="7.8" fill="#25722b" stroke="#1a5a1f" stroke-width="0.5"/><rect x="387.1" y="170.8" width="3.2" height="1.8" fill="#777" stroke="#666" stroke-width="0.5"/><rect x="391.6" y="170.8" width="3.2" height="25.2" fill="#c81e1e" stroke="#9e1515" stroke-width="0.5"/><rect x="396.1" y="194.3" width="3.2" height="1.7" fill="#777" stroke="#666" stroke-width="0.5"/><rect x="400.6" y="188.2" width="3.2" height="8.7" fill="#25722b" stroke="#1a5a1f" stroke-width="0.5"/><rect x="405.1" y="188.2" width="3.2" height="2.6" fill="#c81e1e" stroke="#9e1515" stroke-width="0.5"/><rect x="409.6" y="190.8" width="3.2" height="4.3" fill="#c81e1e" stroke="#9e1515" stroke-width="0.5"/><rect x="414.1" y="193.4" width="3.2" height="4.3" fill="#c81e1e" stroke="#9e1515" stroke-width="0.5"/><rect x="418.6" y="196.0" width="3.2" height="1.7" fill="#777" stroke="#666" stroke-width="0.5"/><rect x="423.1" y="196.0" width="3.2" height="3.5" fill="#25722b" stroke="#1a5a1f" stroke-width="0.5"/><rect x="427.6" y="192.5" width="3.2" height="4.4" fill="#25722b" stroke="#1a5a1f" stroke-width="0.5"/><rect x="432.1" y="175.2" width="3.2" height="17.3" fill="#25722b" stroke="#1a5a1f" stroke-width="0.5"/><rect x="436.6" y="170.8" width="3.2" height="5.2" fill="#25722b" stroke="#1a5a1f" stroke-width="0.5"/><rect x="441.1" y="170.8" width="3.2" height="26.9" fill="#c81e1e" stroke="#9e1515" stroke-width="0.5"/><rect x="445.6" y="198.6" width="3.2" height="3.4" fill="#c81e1e" stroke="#9e1515" stroke-width="0.5"/><rect x="450.1" y="203.0" width="3.2" height="16.4" fill="#c81e1e" stroke="#9e1515" stroke-width="0.5"/><rect x="454.6" y="220.3" width="3.2" height="1.7" fill="#777" stroke="#666" stroke-width="0.5"/><rect x="459.1" y="222.0" width="3.2" height="4.4" fill="#c81e1e" stroke="#9e1515" stroke-width="0.5"/><rect x="463.6" y="197.7" width="3.2" height="28.7" fill="#25722b" stroke="#1a5a1f" stroke-width="0.5"/><rect x="468.1" y="176.0" width="3.2" height="22.6" fill="#25722b" stroke="#1a5a1f" stroke-width="0.5"/><rect x="472.6" y="174.3" width="3.2" height="1.7" fill="#777" stroke="#666" stroke-width="0.5"/><rect x="477.1" y="173.4" width="3.2" height="12.2" fill="#c81e1e" stroke="#9e1515" stroke-width="0.5"/><rect x="481.5" y="184.7" width="3.2" height="10.4" fill="#c81e1e" stroke="#9e1515" stroke-width="0.5"/><rect x="486.0" y="195.1" width="3.2" height="2.6" fill="#c81e1e" stroke="#9e1515" stroke-width="0.5"/><rect x="490.5" y="187.3" width="3.2" height="9.6" fill="#25722b" stroke="#1a5a1f" stroke-width="0.5"/><rect x="495.0" y="186.5" width="3.2" height="2.0" fill="#777" stroke="#666" stroke-width="0.5"/><rect x="499.5" y="187.3" width="3.2" height="3.5" fill="#c81e1e" stroke="#9e1515" stroke-width="0.5"/><rect x="504.0" y="190.8" width="3.2" height="7.8" fill="#c81e1e" stroke="#9e1515" stroke-width="0.5"/><rect x="508.5" y="190.8" width="3.2" height="7.8" fill="#25722b" stroke="#1a5a1f" stroke-width="0.5"/><rect x="513.0" y="187.3" width="3.2" height="6.1" fill="#25722b" stroke="#1a5a1f" stroke-width="0.5"/><rect x="517.5" y="187.8" width="3.2" height="3.1" fill="#c81e1e" stroke="#9e1515" stroke-width="0.5"/><rect x="522.0" y="189.5" width="3.2" height="5.2" fill="#c81e1e" stroke="#9e1515" stroke-width="0.5"/><rect x="526.5" y="189.5" width="3.2" height="5.2" fill="#c81e1e" stroke="#9e1515" stroke-width="0.5"/><rect x="531.0" y="193.9" width="3.2" height="5.1" fill="#c81e1e" stroke="#9e1515" stroke-width="0.5"/><rect x="535.5" y="195.6" width="3.2" height="2.6" fill="#c81e1e" stroke="#9e1515" stroke-width="0.5"/><rect x="540.0" y="194.7" width="3.2" height="4.3" fill="#c81e1e" stroke="#9e1515" stroke-width="0.5"/><rect x="544.5" y="195.6" width="3.2" height="2.6" fill="#25722b" stroke="#1a5a1f" stroke-width="0.5"/><rect x="549.0" y="195.6" width="3.2" height="1.7" fill="#777" stroke="#666" stroke-width="0.5"/><rect x="553.5" y="190.4" width="3.2" height="6.1" fill="#25722b" stroke="#1a5a1f" stroke-width="0.5"/><rect x="558.0" y="187.8" width="3.2" height="3.5" fill="#25722b" stroke="#1a5a1f" stroke-width="0.5"/><rect x="562.5" y="187.8" width="3.2" height="5.2" fill="#c81e1e" stroke="#9e1515" stroke-width="0.5"/><rect x="567.0" y="187.8" width="3.2" height="5.2" fill="#25722b" stroke="#1a5a1f" stroke-width="0.5"/><rect x="571.5" y="187.7" width="3.2" height="1.2" fill="#777" stroke="#666" stroke-width="0.5"/><rect x="576.0" y="187.8" width="3.2" height="1.7" fill="#25722b" stroke="#1a5a1f" stroke-width="0.5"/><rect x="580.5" y="187.8" width="3.2" height="1.7" fill="#777" stroke="#666" stroke-width="0.5"/><rect x="585.0" y="189.5" width="3.2" height="12.2" fill="#c81e1e" stroke="#9e1515" stroke-width="0.5"/><rect x="589.5" y="197.3" width="3.2" height="5.2" fill="#25722b" stroke="#1a5a1f" stroke-width="0.5"/><rect x="594.0" y="197.3" width="3.2" height="48.7" fill="#c81e1e" stroke="#9e1515" stroke-width="0.5"/><rect x="598.5" y="245.6" width="3.2" height="37.4" fill="#c81e1e" stroke="#9e1515" stroke-width="0.5"/><rect x="603.0" y="283.0" width="3.2" height="12.1" fill="#c81e1e" stroke="#9e1515" stroke-width="0.5"/><rect x="607.4" y="294.2" width="3.2" height="1.8" fill="#777" stroke="#666" stroke-width="0.5"/><line x1="26" y1="247.4" x2="657" y2="247.4" stroke="#bccff7" stroke-width="3.2"/><line x1="26" y1="247.4" x2="657" y2="247.4" stroke="#4f78d8" stroke-width="1.3"/><line x1="26" y1="330.6" x2="657" y2="330.6" stroke="#d80c0c" stroke-width="2.5"/><line x1="26" y1="353.3" x2="657" y2="353.3" stroke="#d80c0c" stroke-width="2.5"/><rect x="613.8" y="295.2" width="1.5" height="1.5" fill="#666"/><rect x="618.8" y="295.2" width="1.5" height="1.5" fill="#666"/><rect x="623.8" y="295.2" width="1.5" height="1.5" fill="#666"/><rect x="628.8" y="295.2" width="1.5" height="1.5" fill="#666"/><rect x="633.8" y="295.2" width="1.5" height="1.5" fill="#666"/><rect x="638.8" y="295.2" width="1.5" height="1.5" fill="#666"/><rect x="643.8" y="295.2" width="1.5" height="1.5" fill="#666"/><rect x="648.8" y="295.2" width="1.5" height="1.5" fill="#666"/><rect x="653.8" y="295.2" width="1.5" height="1.5" fill="#666"/><rect x="608.5" y="199.8" width="1.5" height="1.5" fill="#5a5f70"/><rect x="613.5" y="199.8" width="1.5" height="1.5" fill="#5a5f70"/><rect x="618.5" y="199.8" width="1.5" height="1.5" fill="#5a5f70"/><rect x="623.5" y="199.8" width="1.5" height="1.5" fill="#5a5f70"/><rect x="628.5" y="199.8" width="1.5" height="1.5" fill="#5a5f70"/><rect x="633.5" y="199.8" width="1.5" height="1.5" fill="#5a5f70"/><rect x="638.5" y="199.8" width="1.5" height="1.5" fill="#5a5f70"/><rect x="643.5" y="199.8" width="1.5" height="1.5" fill="#5a5f70"/><rect x="648.5" y="199.8" width="1.5" height="1.5" fill="#5a5f70"/><rect x="653.5" y="199.8" width="1.5" height="1.5" fill="#5a5f70"/><text transform="translate(59.9,181) rotate(-35)" font-size="38" fill="none" stroke="#c2c2c2" stroke-width="0.9">EAHub.cn</text><text transform="translate(59.9,431) rotate(-35)" font-size="38" fill="none" stroke="#c2c2c2" stroke-width="0.9">EAHub.cn</text><text transform="translate(309.9,181) rotate(-35)" font-size="38" fill="none" stroke="#c2c2c2" stroke-width="0.9">EAHub.cn</text><text transform="translate(309.9,431) rotate(-35)" font-size="38" fill="none" stroke="#c2c2c2" stroke-width="0.9">EAHub.cn</text><text transform="translate(559.9,181) rotate(-35)" font-size="38" fill="none" stroke="#c2c2c2" stroke-width="0.9">EAHub.cn</text><text transform="translate(559.9,431) rotate(-35)" font-size="38" fill="none" stroke="#c2c2c2" stroke-width="0.9">EAHub.cn</text><text x="668.5" y="191.2" fill="#6aa536" font-size="14">1.1165</text><text x="668.5" y="205.9" fill="#6aa536" font-size="14">1.1155</text><path d="M657,247.3 L664.5,238.3 L744,238.3 Q745.5,238.3 745.5,239.8 L745.5,254.8 Q745.5,256.3 744,256.3 L664.5,256.3 Z" fill="#1a62ef"/><text x="668.5" y="252.3" fill="#fff" font-size="14">1.1125</text><path d="M657,295.7 L664.5,286.7 L744,286.7 Q745.5,286.7 745.5,288.2 L745.5,303.2 Q745.5,304.7 744,304.7 L664.5,304.7 Z" fill="#333333"/><text x="668.5" y="300.7" fill="#fff" font-size="14">1.1093</text><path d="M657,330.5 L664.5,320.8 L744,320.8 Q745.5,320.8 745.5,322.2 L745.5,338.8 Q745.5,340.2 744,340.2 L664.5,340.2 Z" fill="#f00000"/><text x="668.5" y="335.5" fill="#fff" font-size="14">1.1070</text><path d="M657,353.2 L664.5,343.4 L744,343.4 Q745.5,343.4 745.5,344.9 L745.5,361.4 Q745.5,362.9 744,362.9 L664.5,362.9 Z" fill="#f00000"/><text x="668.5" y="358.2" fill="#fff" font-size="14">1.1055</text><line x1="614" y1="296" x2="645" y2="340" stroke="#2f63ad" stroke-width="4.2"/><path d="M653.6,351.7 L637,345.1 L651.4,335 Z" fill="#2f63ad"/><rect x="25.6" y="412.0" width="1.2" height="1.2" fill="#b5b5b5"/><rect x="30.6" y="412.0" width="1.2" height="1.2" fill="#b5b5b5"/><rect x="35.6" y="412.0" width="1.2" height="1.2" fill="#b5b5b5"/><rect x="40.6" y="412.0" width="1.2" height="1.2" fill="#b5b5b5"/><rect x="45.6" y="412.0" width="1.2" height="1.2" fill="#b5b5b5"/><rect x="50.6" y="412.0" width="1.2" height="1.2" fill="#b5b5b5"/><rect x="55.6" y="412.0" width="1.2" height="1.2" fill="#b5b5b5"/><rect x="60.6" y="412.0" width="1.2" height="1.2" fill="#b5b5b5"/><rect x="65.6" y="412.0" width="1.2" height="1.2" fill="#b5b5b5"/><rect x="70.6" y="412.0" width="1.2" height="1.2" fill="#b5b5b5"/><rect x="75.6" y="412.0" width="1.2" height="1.2" fill="#b5b5b5"/><rect x="80.6" y="412.0" width="1.2" height="1.2" fill="#b5b5b5"/><rect x="85.6" y="412.0" width="1.2" height="1.2" fill="#b5b5b5"/><rect x="90.6" y="412.0" width="1.2" height="1.2" fill="#b5b5b5"/><rect x="95.6" y="412.0" width="1.2" height="1.2" fill="#b5b5b5"/><rect x="100.6" y="412.0" width="1.2" height="1.2" fill="#b5b5b5"/><rect x="105.6" y="412.0" width="1.2" height="1.2" fill="#b5b5b5"/><rect x="110.6" y="412.0" width="1.2" height="1.2" fill="#b5b5b5"/><rect x="115.6" y="412.0" width="1.2" height="1.2" fill="#b5b5b5"/><rect x="120.6" y="412.0" width="1.2" height="1.2" fill="#b5b5b5"/><rect x="125.6" y="412.0" width="1.2" height="1.2" fill="#b5b5b5"/><rect x="130.6" y="412.0" width="1.2" height="1.2" fill="#b5b5b5"/><rect x="135.6" y="412.0" width="1.2" height="1.2" fill="#b5b5b5"/><rect x="140.6" y="412.0" width="1.2" height="1.2" fill="#b5b5b5"/><rect x="145.6" y="412.0" width="1.2" height="1.2" fill="#b5b5b5"/><rect x="150.6" y="412.0" width="1.2" height="1.2" fill="#b5b5b5"/><rect x="155.6" y="412.0" width="1.2" height="1.2" fill="#b5b5b5"/><rect x="160.6" y="412.0" width="1.2" height="1.2" fill="#b5b5b5"/><rect x="165.6" y="412.0" width="1.2" height="1.2" fill="#b5b5b5"/><rect x="170.6" y="412.0" width="1.2" height="1.2" fill="#b5b5b5"/><rect x="175.6" y="412.0" width="1.2" height="1.2" fill="#b5b5b5"/><rect x="180.6" y="412.0" width="1.2" height="1.2" fill="#b5b5b5"/><rect x="185.6" y="412.0" width="1.2" height="1.2" fill="#b5b5b5"/><rect x="190.6" y="412.0" width="1.2" height="1.2" fill="#b5b5b5"/><rect x="195.6" y="412.0" width="1.2" height="1.2" fill="#b5b5b5"/><rect x="200.6" y="412.0" width="1.2" height="1.2" fill="#b5b5b5"/><rect x="205.6" y="412.0" width="1.2" height="1.2" fill="#b5b5b5"/><rect x="210.6" y="412.0" width="1.2" height="1.2" fill="#b5b5b5"/><rect x="215.6" y="412.0" width="1.2" height="1.2" fill="#b5b5b5"/><rect x="220.6" y="412.0" width="1.2" height="1.2" fill="#b5b5b5"/><rect x="225.6" y="412.0" width="1.2" height="1.2" fill="#b5b5b5"/><rect x="230.6" y="412.0" width="1.2" height="1.2" fill="#b5b5b5"/><rect x="235.6" y="412.0" width="1.2" height="1.2" fill="#b5b5b5"/><rect x="240.6" y="412.0" width="1.2" height="1.2" fill="#b5b5b5"/><rect x="245.6" y="412.0" width="1.2" height="1.2" fill="#b5b5b5"/><rect x="250.6" y="412.0" width="1.2" height="1.2" fill="#b5b5b5"/><rect x="255.6" y="412.0" width="1.2" height="1.2" fill="#b5b5b5"/><rect x="260.6" y="412.0" width="1.2" height="1.2" fill="#b5b5b5"/><rect x="265.6" y="412.0" width="1.2" height="1.2" fill="#b5b5b5"/><rect x="270.6" y="412.0" width="1.2" height="1.2" fill="#b5b5b5"/><rect x="275.6" y="412.0" width="1.2" height="1.2" fill="#b5b5b5"/><rect x="280.6" y="412.0" width="1.2" height="1.2" fill="#b5b5b5"/><rect x="285.6" y="412.0" width="1.2" height="1.2" fill="#b5b5b5"/><rect x="290.6" y="412.0" width="1.2" height="1.2" fill="#b5b5b5"/><rect x="295.6" y="412.0" width="1.2" height="1.2" fill="#b5b5b5"/><rect x="300.6" y="412.0" width="1.2" height="1.2" fill="#b5b5b5"/><rect x="305.6" y="412.0" width="1.2" height="1.2" fill="#b5b5b5"/><rect x="310.6" y="412.0" width="1.2" height="1.2" fill="#b5b5b5"/><rect x="315.6" y="412.0" width="1.2" height="1.2" fill="#b5b5b5"/><rect x="320.6" y="412.0" width="1.2" height="1.2" fill="#b5b5b5"/><rect x="325.6" y="412.0" width="1.2" height="1.2" fill="#b5b5b5"/><rect x="330.6" y="412.0" width="1.2" height="1.2" fill="#b5b5b5"/><rect x="335.6" y="412.0" width="1.2" height="1.2" fill="#b5b5b5"/><rect x="340.6" y="412.0" width="1.2" height="1.2" fill="#b5b5b5"/><rect x="345.6" y="412.0" width="1.2" height="1.2" fill="#b5b5b5"/><rect x="350.6" y="412.0" width="1.2" height="1.2" fill="#b5b5b5"/><rect x="355.6" y="412.0" width="1.2" height="1.2" fill="#b5b5b5"/><rect x="360.6" y="412.0" width="1.2" height="1.2" fill="#b5b5b5"/><rect x="365.6" y="412.0" width="1.2" height="1.2" fill="#b5b5b5"/><rect x="370.6" y="412.0" width="1.2" height="1.2" fill="#b5b5b5"/><rect x="375.6" y="412.0" width="1.2" height="1.2" fill="#b5b5b5"/><rect x="380.6" y="412.0" width="1.2" height="1.2" fill="#b5b5b5"/><rect x="385.6" y="412.0" width="1.2" height="1.2" fill="#b5b5b5"/><rect x="390.6" y="412.0" width="1.2" height="1.2" fill="#b5b5b5"/><rect x="395.6" y="412.0" width="1.2" height="1.2" fill="#b5b5b5"/><rect x="400.6" y="412.0" width="1.2" height="1.2" fill="#b5b5b5"/><rect x="405.6" y="412.0" width="1.2" height="1.2" fill="#b5b5b5"/><rect x="410.6" y="412.0" width="1.2" height="1.2" fill="#b5b5b5"/><rect x="415.6" y="412.0" width="1.2" height="1.2" fill="#b5b5b5"/><rect x="420.6" y="412.0" width="1.2" height="1.2" fill="#b5b5b5"/><rect x="425.6" y="412.0" width="1.2" height="1.2" fill="#b5b5b5"/><rect x="430.6" y="412.0" width="1.2" height="1.2" fill="#b5b5b5"/><rect x="435.6" y="412.0" width="1.2" height="1.2" fill="#b5b5b5"/><rect x="440.6" y="412.0" width="1.2" height="1.2" fill="#b5b5b5"/><rect x="445.6" y="412.0" width="1.2" height="1.2" fill="#b5b5b5"/><rect x="450.6" y="412.0" width="1.2" height="1.2" fill="#b5b5b5"/><rect x="455.6" y="412.0" width="1.2" height="1.2" fill="#b5b5b5"/><rect x="460.6" y="412.0" width="1.2" height="1.2" fill="#b5b5b5"/><rect x="465.6" y="412.0" width="1.2" height="1.2" fill="#b5b5b5"/><rect x="470.6" y="412.0" width="1.2" height="1.2" fill="#b5b5b5"/><rect x="475.6" y="412.0" width="1.2" height="1.2" fill="#b5b5b5"/><rect x="480.6" y="412.0" width="1.2" height="1.2" fill="#b5b5b5"/><rect x="485.6" y="412.0" width="1.2" height="1.2" fill="#b5b5b5"/><rect x="490.6" y="412.0" width="1.2" height="1.2" fill="#b5b5b5"/><rect x="495.6" y="412.0" width="1.2" height="1.2" fill="#b5b5b5"/><rect x="500.6" y="412.0" width="1.2" height="1.2" fill="#b5b5b5"/><rect x="505.6" y="412.0" width="1.2" height="1.2" fill="#b5b5b5"/><rect x="510.6" y="412.0" width="1.2" height="1.2" fill="#b5b5b5"/><rect x="515.6" y="412.0" width="1.2" height="1.2" fill="#b5b5b5"/><rect x="520.6" y="412.0" width="1.2" height="1.2" fill="#b5b5b5"/><rect x="525.6" y="412.0" width="1.2" height="1.2" fill="#b5b5b5"/><rect x="530.6" y="412.0" width="1.2" height="1.2" fill="#b5b5b5"/><rect x="535.6" y="412.0" width="1.2" height="1.2" fill="#b5b5b5"/><rect x="540.6" y="412.0" width="1.2" height="1.2" fill="#b5b5b5"/><rect x="545.6" y="412.0" width="1.2" height="1.2" fill="#b5b5b5"/><rect x="550.6" y="412.0" width="1.2" height="1.2" fill="#b5b5b5"/><rect x="555.6" y="412.0" width="1.2" height="1.2" fill="#b5b5b5"/><rect x="560.6" y="412.0" width="1.2" height="1.2" fill="#b5b5b5"/><rect x="565.6" y="412.0" width="1.2" height="1.2" fill="#b5b5b5"/><rect x="570.6" y="412.0" width="1.2" height="1.2" fill="#b5b5b5"/><rect x="575.6" y="412.0" width="1.2" height="1.2" fill="#b5b5b5"/><rect x="580.6" y="412.0" width="1.2" height="1.2" fill="#b5b5b5"/><rect x="585.6" y="412.0" width="1.2" height="1.2" fill="#b5b5b5"/><rect x="590.6" y="412.0" width="1.2" height="1.2" fill="#b5b5b5"/><rect x="595.6" y="412.0" width="1.2" height="1.2" fill="#b5b5b5"/><rect x="600.6" y="412.0" width="1.2" height="1.2" fill="#b5b5b5"/><rect x="605.6" y="412.0" width="1.2" height="1.2" fill="#b5b5b5"/><rect x="610.6" y="412.0" width="1.2" height="1.2" fill="#b5b5b5"/><rect x="615.6" y="412.0" width="1.2" height="1.2" fill="#b5b5b5"/><rect x="620.6" y="412.0" width="1.2" height="1.2" fill="#b5b5b5"/><rect x="625.6" y="412.0" width="1.2" height="1.2" fill="#b5b5b5"/><rect x="630.6" y="412.0" width="1.2" height="1.2" fill="#b5b5b5"/><rect x="635.6" y="412.0" width="1.2" height="1.2" fill="#b5b5b5"/><rect x="640.6" y="412.0" width="1.2" height="1.2" fill="#b5b5b5"/><rect x="645.6" y="412.0" width="1.2" height="1.2" fill="#b5b5b5"/><rect x="650.6" y="412.0" width="1.2" height="1.2" fill="#b5b5b5"/><rect x="655.6" y="412.0" width="1.2" height="1.2" fill="#b5b5b5"/><rect x="25.6" y="433.7" width="1.2" height="1.2" fill="#b5b5b5"/><rect x="30.6" y="433.7" width="1.2" height="1.2" fill="#b5b5b5"/><rect x="35.6" y="433.7" width="1.2" height="1.2" fill="#b5b5b5"/><rect x="40.6" y="433.7" width="1.2" height="1.2" fill="#b5b5b5"/><rect x="45.6" y="433.7" width="1.2" height="1.2" fill="#b5b5b5"/><rect x="50.6" y="433.7" width="1.2" height="1.2" fill="#b5b5b5"/><rect x="55.6" y="433.7" width="1.2" height="1.2" fill="#b5b5b5"/><rect x="60.6" y="433.7" width="1.2" height="1.2" fill="#b5b5b5"/><rect x="65.6" y="433.7" width="1.2" height="1.2" fill="#b5b5b5"/><rect x="70.6" y="433.7" width="1.2" height="1.2" fill="#b5b5b5"/><rect x="75.6" y="433.7" width="1.2" height="1.2" fill="#b5b5b5"/><rect x="80.6" y="433.7" width="1.2" height="1.2" fill="#b5b5b5"/><rect x="85.6" y="433.7" width="1.2" height="1.2" fill="#b5b5b5"/><rect x="90.6" y="433.7" width="1.2" height="1.2" fill="#b5b5b5"/><rect x="95.6" y="433.7" width="1.2" height="1.2" fill="#b5b5b5"/><rect x="100.6" y="433.7" width="1.2" height="1.2" fill="#b5b5b5"/><rect x="105.6" y="433.7" width="1.2" height="1.2" fill="#b5b5b5"/><rect x="110.6" y="433.7" width="1.2" height="1.2" fill="#b5b5b5"/><rect x="115.6" y="433.7" width="1.2" height="1.2" fill="#b5b5b5"/><rect x="120.6" y="433.7" width="1.2" height="1.2" fill="#b5b5b5"/><rect x="125.6" y="433.7" width="1.2" height="1.2" fill="#b5b5b5"/><rect x="130.6" y="433.7" width="1.2" height="1.2" fill="#b5b5b5"/><rect x="135.6" y="433.7" width="1.2" height="1.2" fill="#b5b5b5"/><rect x="140.6" y="433.7" width="1.2" height="1.2" fill="#b5b5b5"/><rect x="145.6" y="433.7" width="1.2" height="1.2" fill="#b5b5b5"/><rect x="150.6" y="433.7" width="1.2" height="1.2" fill="#b5b5b5"/><rect x="155.6" y="433.7" width="1.2" height="1.2" fill="#b5b5b5"/><rect x="160.6" y="433.7" width="1.2" height="1.2" fill="#b5b5b5"/><rect x="165.6" y="433.7" width="1.2" height="1.2" fill="#b5b5b5"/><rect x="170.6" y="433.7" width="1.2" height="1.2" fill="#b5b5b5"/><rect x="175.6" y="433.7" width="1.2" height="1.2" fill="#b5b5b5"/><rect x="180.6" y="433.7" width="1.2" height="1.2" fill="#b5b5b5"/><rect x="185.6" y="433.7" width="1.2" height="1.2" fill="#b5b5b5"/><rect x="190.6" y="433.7" width="1.2" height="1.2" fill="#b5b5b5"/><rect x="195.6" y="433.7" width="1.2" height="1.2" fill="#b5b5b5"/><rect x="200.6" y="433.7" width="1.2" height="1.2" fill="#b5b5b5"/><rect x="205.6" y="433.7" width="1.2" height="1.2" fill="#b5b5b5"/><rect x="210.6" y="433.7" width="1.2" height="1.2" fill="#b5b5b5"/><rect x="215.6" y="433.7" width="1.2" height="1.2" fill="#b5b5b5"/><rect x="220.6" y="433.7" width="1.2" height="1.2" fill="#b5b5b5"/><rect x="225.6" y="433.7" width="1.2" height="1.2" fill="#b5b5b5"/><rect x="230.6" y="433.7" width="1.2" height="1.2" fill="#b5b5b5"/><rect x="235.6" y="433.7" width="1.2" height="1.2" fill="#b5b5b5"/><rect x="240.6" y="433.7" width="1.2" height="1.2" fill="#b5b5b5"/><rect x="245.6" y="433.7" width="1.2" height="1.2" fill="#b5b5b5"/><rect x="250.6" y="433.7" width="1.2" height="1.2" fill="#b5b5b5"/><rect x="255.6" y="433.7" width="1.2" height="1.2" fill="#b5b5b5"/><rect x="260.6" y="433.7" width="1.2" height="1.2" fill="#b5b5b5"/><rect x="265.6" y="433.7" width="1.2" height="1.2" fill="#b5b5b5"/><rect x="270.6" y="433.7" width="1.2" height="1.2" fill="#b5b5b5"/><rect x="275.6" y="433.7" width="1.2" height="1.2" fill="#b5b5b5"/><rect x="280.6" y="433.7" width="1.2" height="1.2" fill="#b5b5b5"/><rect x="285.6" y="433.7" width="1.2" height="1.2" fill="#b5b5b5"/><rect x="290.6" y="433.7" width="1.2" height="1.2" fill="#b5b5b5"/><rect x="295.6" y="433.7" width="1.2" height="1.2" fill="#b5b5b5"/><rect x="300.6" y="433.7" width="1.2" height="1.2" fill="#b5b5b5"/><rect x="305.6" y="433.7" width="1.2" height="1.2" fill="#b5b5b5"/><rect x="310.6" y="433.7" width="1.2" height="1.2" fill="#b5b5b5"/><rect x="315.6" y="433.7" width="1.2" height="1.2" fill="#b5b5b5"/><rect x="320.6" y="433.7" width="1.2" height="1.2" fill="#b5b5b5"/><rect x="325.6" y="433.7" width="1.2" height="1.2" fill="#b5b5b5"/><rect x="330.6" y="433.7" width="1.2" height="1.2" fill="#b5b5b5"/><rect x="335.6" y="433.7" width="1.2" height="1.2" fill="#b5b5b5"/><rect x="340.6" y="433.7" width="1.2" height="1.2" fill="#b5b5b5"/><rect x="345.6" y="433.7" width="1.2" height="1.2" fill="#b5b5b5"/><rect x="350.6" y="433.7" width="1.2" height="1.2" fill="#b5b5b5"/><rect x="355.6" y="433.7" width="1.2" height="1.2" fill="#b5b5b5"/><rect x="360.6" y="433.7" width="1.2" height="1.2" fill="#b5b5b5"/><rect x="365.6" y="433.7" width="1.2" height="1.2" fill="#b5b5b5"/><rect x="370.6" y="433.7" width="1.2" height="1.2" fill="#b5b5b5"/><rect x="375.6" y="433.7" width="1.2" height="1.2" fill="#b5b5b5"/><rect x="380.6" y="433.7" width="1.2" height="1.2" fill="#b5b5b5"/><rect x="385.6" y="433.7" width="1.2" height="1.2" fill="#b5b5b5"/><rect x="390.6" y="433.7" width="1.2" height="1.2" fill="#b5b5b5"/><rect x="395.6" y="433.7" width="1.2" height="1.2" fill="#b5b5b5"/><rect x="400.6" y="433.7" width="1.2" height="1.2" fill="#b5b5b5"/><rect x="405.6" y="433.7" width="1.2" height="1.2" fill="#b5b5b5"/><rect x="410.6" y="433.7" width="1.2" height="1.2" fill="#b5b5b5"/><rect x="415.6" y="433.7" width="1.2" height="1.2" fill="#b5b5b5"/><rect x="420.6" y="433.7" width="1.2" height="1.2" fill="#b5b5b5"/><rect x="425.6" y="433.7" width="1.2" height="1.2" fill="#b5b5b5"/><rect x="430.6" y="433.7" width="1.2" height="1.2" fill="#b5b5b5"/><rect x="435.6" y="433.7" width="1.2" height="1.2" fill="#b5b5b5"/><rect x="440.6" y="433.7" width="1.2" height="1.2" fill="#b5b5b5"/><rect x="445.6" y="433.7" width="1.2" height="1.2" fill="#b5b5b5"/><rect x="450.6" y="433.7" width="1.2" height="1.2" fill="#b5b5b5"/><rect x="455.6" y="433.7" width="1.2" height="1.2" fill="#b5b5b5"/><rect x="460.6" y="433.7" width="1.2" height="1.2" fill="#b5b5b5"/><rect x="465.6" y="433.7" width="1.2" height="1.2" fill="#b5b5b5"/><rect x="470.6" y="433.7" width="1.2" height="1.2" fill="#b5b5b5"/><rect x="475.6" y="433.7" width="1.2" height="1.2" fill="#b5b5b5"/><rect x="480.6" y="433.7" width="1.2" height="1.2" fill="#b5b5b5"/><rect x="485.6" y="433.7" width="1.2" height="1.2" fill="#b5b5b5"/><rect x="490.6" y="433.7" width="1.2" height="1.2" fill="#b5b5b5"/><rect x="495.6" y="433.7" width="1.2" height="1.2" fill="#b5b5b5"/><rect x="500.6" y="433.7" width="1.2" height="1.2" fill="#b5b5b5"/><rect x="505.6" y="433.7" width="1.2" height="1.2" fill="#b5b5b5"/><rect x="510.6" y="433.7" width="1.2" height="1.2" fill="#b5b5b5"/><rect x="515.6" y="433.7" width="1.2" height="1.2" fill="#b5b5b5"/><rect x="520.6" y="433.7" width="1.2" height="1.2" fill="#b5b5b5"/><rect x="525.6" y="433.7" width="1.2" height="1.2" fill="#b5b5b5"/><rect x="530.6" y="433.7" width="1.2" height="1.2" fill="#b5b5b5"/><rect x="535.6" y="433.7" width="1.2" height="1.2" fill="#b5b5b5"/><rect x="540.6" y="433.7" width="1.2" height="1.2" fill="#b5b5b5"/><rect x="545.6" y="433.7" width="1.2" height="1.2" fill="#b5b5b5"/><rect x="550.6" y="433.7" width="1.2" height="1.2" fill="#b5b5b5"/><rect x="555.6" y="433.7" width="1.2" height="1.2" fill="#b5b5b5"/><rect x="560.6" y="433.7" width="1.2" height="1.2" fill="#b5b5b5"/><rect x="565.6" y="433.7" width="1.2" height="1.2" fill="#b5b5b5"/><rect x="570.6" y="433.7" width="1.2" height="1.2" fill="#b5b5b5"/><rect x="575.6" y="433.7" width="1.2" height="1.2" fill="#b5b5b5"/><rect x="580.6" y="433.7" width="1.2" height="1.2" fill="#b5b5b5"/><rect x="585.6" y="433.7" width="1.2" height="1.2" fill="#b5b5b5"/><rect x="590.6" y="433.7" width="1.2" height="1.2" fill="#b5b5b5"/><rect x="595.6" y="433.7" width="1.2" height="1.2" fill="#b5b5b5"/><rect x="600.6" y="433.7" width="1.2" height="1.2" fill="#b5b5b5"/><rect x="605.6" y="433.7" width="1.2" height="1.2" fill="#b5b5b5"/><rect x="610.6" y="433.7" width="1.2" height="1.2" fill="#b5b5b5"/><rect x="615.6" y="433.7" width="1.2" height="1.2" fill="#b5b5b5"/><rect x="620.6" y="433.7" width="1.2" height="1.2" fill="#b5b5b5"/><rect x="625.6" y="433.7" width="1.2" height="1.2" fill="#b5b5b5"/><rect x="630.6" y="433.7" width="1.2" height="1.2" fill="#b5b5b5"/><rect x="635.6" y="433.7" width="1.2" height="1.2" fill="#b5b5b5"/><rect x="640.6" y="433.7" width="1.2" height="1.2" fill="#b5b5b5"/><rect x="645.6" y="433.7" width="1.2" height="1.2" fill="#b5b5b5"/><rect x="650.6" y="433.7" width="1.2" height="1.2" fill="#b5b5b5"/><rect x="655.6" y="433.7" width="1.2" height="1.2" fill="#b5b5b5"/><rect x="25.6" y="455.6" width="1.2" height="1.2" fill="#b5b5b5"/><rect x="30.6" y="455.6" width="1.2" height="1.2" fill="#b5b5b5"/><rect x="35.6" y="455.6" width="1.2" height="1.2" fill="#b5b5b5"/><rect x="40.6" y="455.6" width="1.2" height="1.2" fill="#b5b5b5"/><rect x="45.6" y="455.6" width="1.2" height="1.2" fill="#b5b5b5"/><rect x="50.6" y="455.6" width="1.2" height="1.2" fill="#b5b5b5"/><rect x="55.6" y="455.6" width="1.2" height="1.2" fill="#b5b5b5"/><rect x="60.6" y="455.6" width="1.2" height="1.2" fill="#b5b5b5"/><rect x="65.6" y="455.6" width="1.2" height="1.2" fill="#b5b5b5"/><rect x="70.6" y="455.6" width="1.2" height="1.2" fill="#b5b5b5"/><rect x="75.6" y="455.6" width="1.2" height="1.2" fill="#b5b5b5"/><rect x="80.6" y="455.6" width="1.2" height="1.2" fill="#b5b5b5"/><rect x="85.6" y="455.6" width="1.2" height="1.2" fill="#b5b5b5"/><rect x="90.6" y="455.6" width="1.2" height="1.2" fill="#b5b5b5"/><rect x="95.6" y="455.6" width="1.2" height="1.2" fill="#b5b5b5"/><rect x="100.6" y="455.6" width="1.2" height="1.2" fill="#b5b5b5"/><rect x="105.6" y="455.6" width="1.2" height="1.2" fill="#b5b5b5"/><rect x="110.6" y="455.6" width="1.2" height="1.2" fill="#b5b5b5"/><rect x="115.6" y="455.6" width="1.2" height="1.2" fill="#b5b5b5"/><rect x="120.6" y="455.6" width="1.2" height="1.2" fill="#b5b5b5"/><rect x="125.6" y="455.6" width="1.2" height="1.2" fill="#b5b5b5"/><rect x="130.6" y="455.6" width="1.2" height="1.2" fill="#b5b5b5"/><rect x="135.6" y="455.6" width="1.2" height="1.2" fill="#b5b5b5"/><rect x="140.6" y="455.6" width="1.2" height="1.2" fill="#b5b5b5"/><rect x="145.6" y="455.6" width="1.2" height="1.2" fill="#b5b5b5"/><rect x="150.6" y="455.6" width="1.2" height="1.2" fill="#b5b5b5"/><rect x="155.6" y="455.6" width="1.2" height="1.2" fill="#b5b5b5"/><rect x="160.6" y="455.6" width="1.2" height="1.2" fill="#b5b5b5"/><rect x="165.6" y="455.6" width="1.2" height="1.2" fill="#b5b5b5"/><rect x="170.6" y="455.6" width="1.2" height="1.2" fill="#b5b5b5"/><rect x="175.6" y="455.6" width="1.2" height="1.2" fill="#b5b5b5"/><rect x="180.6" y="455.6" width="1.2" height="1.2" fill="#b5b5b5"/><rect x="185.6" y="455.6" width="1.2" height="1.2" fill="#b5b5b5"/><rect x="190.6" y="455.6" width="1.2" height="1.2" fill="#b5b5b5"/><rect x="195.6" y="455.6" width="1.2" height="1.2" fill="#b5b5b5"/><rect x="200.6" y="455.6" width="1.2" height="1.2" fill="#b5b5b5"/><rect x="205.6" y="455.6" width="1.2" height="1.2" fill="#b5b5b5"/><rect x="210.6" y="455.6" width="1.2" height="1.2" fill="#b5b5b5"/><rect x="215.6" y="455.6" width="1.2" height="1.2" fill="#b5b5b5"/><rect x="220.6" y="455.6" width="1.2" height="1.2" fill="#b5b5b5"/><rect x="225.6" y="455.6" width="1.2" height="1.2" fill="#b5b5b5"/><rect x="230.6" y="455.6" width="1.2" height="1.2" fill="#b5b5b5"/><rect x="235.6" y="455.6" width="1.2" height="1.2" fill="#b5b5b5"/><rect x="240.6" y="455.6" width="1.2" height="1.2" fill="#b5b5b5"/><rect x="245.6" y="455.6" width="1.2" height="1.2" fill="#b5b5b5"/><rect x="250.6" y="455.6" width="1.2" height="1.2" fill="#b5b5b5"/><rect x="255.6" y="455.6" width="1.2" height="1.2" fill="#b5b5b5"/><rect x="260.6" y="455.6" width="1.2" height="1.2" fill="#b5b5b5"/><rect x="265.6" y="455.6" width="1.2" height="1.2" fill="#b5b5b5"/><rect x="270.6" y="455.6" width="1.2" height="1.2" fill="#b5b5b5"/><rect x="275.6" y="455.6" width="1.2" height="1.2" fill="#b5b5b5"/><rect x="280.6" y="455.6" width="1.2" height="1.2" fill="#b5b5b5"/><rect x="285.6" y="455.6" width="1.2" height="1.2" fill="#b5b5b5"/><rect x="290.6" y="455.6" width="1.2" height="1.2" fill="#b5b5b5"/><rect x="295.6" y="455.6" width="1.2" height="1.2" fill="#b5b5b5"/><rect x="300.6" y="455.6" width="1.2" height="1.2" fill="#b5b5b5"/><rect x="305.6" y="455.6" width="1.2" height="1.2" fill="#b5b5b5"/><rect x="310.6" y="455.6" width="1.2" height="1.2" fill="#b5b5b5"/><rect x="315.6" y="455.6" width="1.2" height="1.2" fill="#b5b5b5"/><rect x="320.6" y="455.6" width="1.2" height="1.2" fill="#b5b5b5"/><rect x="325.6" y="455.6" width="1.2" height="1.2" fill="#b5b5b5"/><rect x="330.6" y="455.6" width="1.2" height="1.2" fill="#b5b5b5"/><rect x="335.6" y="455.6" width="1.2" height="1.2" fill="#b5b5b5"/><rect x="340.6" y="455.6" width="1.2" height="1.2" fill="#b5b5b5"/><rect x="345.6" y="455.6" width="1.2" height="1.2" fill="#b5b5b5"/><rect x="350.6" y="455.6" width="1.2" height="1.2" fill="#b5b5b5"/><rect x="355.6" y="455.6" width="1.2" height="1.2" fill="#b5b5b5"/><rect x="360.6" y="455.6" width="1.2" height="1.2" fill="#b5b5b5"/><rect x="365.6" y="455.6" width="1.2" height="1.2" fill="#b5b5b5"/><rect x="370.6" y="455.6" width="1.2" height="1.2" fill="#b5b5b5"/><rect x="375.6" y="455.6" width="1.2" height="1.2" fill="#b5b5b5"/><rect x="380.6" y="455.6" width="1.2" height="1.2" fill="#b5b5b5"/><rect x="385.6" y="455.6" width="1.2" height="1.2" fill="#b5b5b5"/><rect x="390.6" y="455.6" width="1.2" height="1.2" fill="#b5b5b5"/><rect x="395.6" y="455.6" width="1.2" height="1.2" fill="#b5b5b5"/><rect x="400.6" y="455.6" width="1.2" height="1.2" fill="#b5b5b5"/><rect x="405.6" y="455.6" width="1.2" height="1.2" fill="#b5b5b5"/><rect x="410.6" y="455.6" width="1.2" height="1.2" fill="#b5b5b5"/><rect x="415.6" y="455.6" width="1.2" height="1.2" fill="#b5b5b5"/><rect x="420.6" y="455.6" width="1.2" height="1.2" fill="#b5b5b5"/><rect x="425.6" y="455.6" width="1.2" height="1.2" fill="#b5b5b5"/><rect x="430.6" y="455.6" width="1.2" height="1.2" fill="#b5b5b5"/><rect x="435.6" y="455.6" width="1.2" height="1.2" fill="#b5b5b5"/><rect x="440.6" y="455.6" width="1.2" height="1.2" fill="#b5b5b5"/><rect x="445.6" y="455.6" width="1.2" height="1.2" fill="#b5b5b5"/><rect x="450.6" y="455.6" width="1.2" height="1.2" fill="#b5b5b5"/><rect x="455.6" y="455.6" width="1.2" height="1.2" fill="#b5b5b5"/><rect x="460.6" y="455.6" width="1.2" height="1.2" fill="#b5b5b5"/><rect x="465.6" y="455.6" width="1.2" height="1.2" fill="#b5b5b5"/><rect x="470.6" y="455.6" width="1.2" height="1.2" fill="#b5b5b5"/><rect x="475.6" y="455.6" width="1.2" height="1.2" fill="#b5b5b5"/><rect x="480.6" y="455.6" width="1.2" height="1.2" fill="#b5b5b5"/><rect x="485.6" y="455.6" width="1.2" height="1.2" fill="#b5b5b5"/><rect x="490.6" y="455.6" width="1.2" height="1.2" fill="#b5b5b5"/><rect x="495.6" y="455.6" width="1.2" height="1.2" fill="#b5b5b5"/><rect x="500.6" y="455.6" width="1.2" height="1.2" fill="#b5b5b5"/><rect x="505.6" y="455.6" width="1.2" height="1.2" fill="#b5b5b5"/><rect x="510.6" y="455.6" width="1.2" height="1.2" fill="#b5b5b5"/><rect x="515.6" y="455.6" width="1.2" height="1.2" fill="#b5b5b5"/><rect x="520.6" y="455.6" width="1.2" height="1.2" fill="#b5b5b5"/><rect x="525.6" y="455.6" width="1.2" height="1.2" fill="#b5b5b5"/><rect x="530.6" y="455.6" width="1.2" height="1.2" fill="#b5b5b5"/><rect x="535.6" y="455.6" width="1.2" height="1.2" fill="#b5b5b5"/><rect x="540.6" y="455.6" width="1.2" height="1.2" fill="#b5b5b5"/><rect x="545.6" y="455.6" width="1.2" height="1.2" fill="#b5b5b5"/><rect x="550.6" y="455.6" width="1.2" height="1.2" fill="#b5b5b5"/><rect x="555.6" y="455.6" width="1.2" height="1.2" fill="#b5b5b5"/><rect x="560.6" y="455.6" width="1.2" height="1.2" fill="#b5b5b5"/><rect x="565.6" y="455.6" width="1.2" height="1.2" fill="#b5b5b5"/><rect x="570.6" y="455.6" width="1.2" height="1.2" fill="#b5b5b5"/><rect x="575.6" y="455.6" width="1.2" height="1.2" fill="#b5b5b5"/><rect x="580.6" y="455.6" width="1.2" height="1.2" fill="#b5b5b5"/><rect x="585.6" y="455.6" width="1.2" height="1.2" fill="#b5b5b5"/><rect x="590.6" y="455.6" width="1.2" height="1.2" fill="#b5b5b5"/><rect x="595.6" y="455.6" width="1.2" height="1.2" fill="#b5b5b5"/><rect x="600.6" y="455.6" width="1.2" height="1.2" fill="#b5b5b5"/><rect x="605.6" y="455.6" width="1.2" height="1.2" fill="#b5b5b5"/><rect x="610.6" y="455.6" width="1.2" height="1.2" fill="#b5b5b5"/><rect x="615.6" y="455.6" width="1.2" height="1.2" fill="#b5b5b5"/><rect x="620.6" y="455.6" width="1.2" height="1.2" fill="#b5b5b5"/><rect x="625.6" y="455.6" width="1.2" height="1.2" fill="#b5b5b5"/><rect x="630.6" y="455.6" width="1.2" height="1.2" fill="#b5b5b5"/><rect x="635.6" y="455.6" width="1.2" height="1.2" fill="#b5b5b5"/><rect x="640.6" y="455.6" width="1.2" height="1.2" fill="#b5b5b5"/><rect x="645.6" y="455.6" width="1.2" height="1.2" fill="#b5b5b5"/><rect x="650.6" y="455.6" width="1.2" height="1.2" fill="#b5b5b5"/><rect x="655.6" y="455.6" width="1.2" height="1.2" fill="#b5b5b5"/><text x="668.5" y="417.3" fill="#777" font-size="14">70</text><text x="668.5" y="439" fill="#777" font-size="14">50</text><text x="668.5" y="461" fill="#777" font-size="14">30</text><polyline points="26.0,439.0 29.2,439.5 33.3,443.7 36.4,436.4 39.5,433.3 42.6,435.4 46.8,438.5 50.9,435.4 56.1,409.5 60.2,419.8 65.4,431.2 69.5,442.6 73.7,440.5 78.9,438.5 86.1,439.5 92.3,437.4 96.5,436.4 101.6,438.5 106.8,439.5 111.0,444.7 115.1,451.9 119.2,454.0 123.4,449.9 127.5,443.7 133.7,436.4 139.9,432.3 146.2,433.3 152.4,429.2 158.6,426.0 164.8,425.0 171.0,419.8 177.2,417.8 184.0,412.6 186.2,412.6 194.5,407.8 200.7,411.6 205.9,416.7 209.0,423.0 214.2,424.0 218.3,429.2 221.4,440.5 225.5,439.5 231.3,444.7 235.9,439.5 241.1,438.5 246.3,432.3 254.5,426.0 260.7,426.0 264.9,427.1 273.2,420.9 277.3,421.9 281.4,426.0 287.7,425.0 295.9,425.6 304.2,426.0 312.5,426.5 317.7,429.2 324.9,427.1 333.2,426.0 336.0,427.1 342.2,429.2 347.4,426.0 352.6,420.3 356.7,423.0 361.9,421.9 366.0,425.0 371.2,430.2 375.3,426.0 379.5,418.8 383.6,415.7 388.8,415.7 391.5,426.0 394.0,437.4 398.1,437.4 402.3,432.7 407.4,433.9 414.7,438.5 420.9,438.5 427.1,436.4 431.2,428.1 434.3,420.9 438.1,418.8 440.6,430.2 442.6,438.5 446.8,441.6 451.9,449.2 460.2,451.3 463.3,439.5 468.5,428.1 473.7,425.0 478.9,430.2 484.0,434.8 489.2,434.3 494.1,431.2 499.3,432.3 505.5,437.4 510.7,433.3 514.8,431.9 521.1,433.3 527.3,435.4 533.5,437.4 541.8,438.1 548.0,435.4 554.2,432.3 559.4,429.8 563.5,432.3 567.6,430.6 572.8,430.2 579.0,430.6 583.2,434.3 586.3,439.5 590.4,440.5 593.5,453.0 596.6,465.4 600.8,470.6 605.9,472.0 610.1,472.0" fill="none" stroke="#93a9e4" stroke-width="1.1" stroke-linejoin="round"/><path d="M26.0,436.0 C26.5,436.1 27.5,436.2 29.2,436.4 C30.9,436.6 33.8,437.4 36.4,437.4 C39.0,437.4 42.1,436.4 44.7,436.4 C47.3,436.4 49.9,437.6 52.0,437.4 C54.1,437.2 54.9,436.2 57.1,435.4 C59.3,434.6 62.3,433.2 65.4,432.7 C68.5,432.2 71.3,432.2 75.8,432.3 C80.3,432.4 88.5,432.5 92.3,433.3 C96.1,434.1 95.7,436.5 98.5,437.4 C101.3,438.3 105.8,437.8 108.9,438.5 C112.0,439.2 114.1,440.7 117.2,441.6 C120.3,442.5 123.7,443.4 127.5,443.7 C131.3,444.0 136.1,444.2 139.9,443.7 C143.7,443.2 146.9,442.1 150.3,440.5 C153.8,438.9 156.8,436.4 160.6,434.3 C164.4,432.2 169.2,430.0 173.1,428.1 C177.0,426.2 181.1,424.6 184.0,423.0 C186.9,421.4 187.3,420.2 190.4,418.8 C193.5,417.4 198.7,415.2 202.8,414.7 C206.9,414.2 211.4,414.5 215.2,415.7 C219.0,416.9 222.4,419.8 225.5,421.9 C228.6,424.0 231.0,426.2 233.8,428.1 C236.6,430.0 238.7,432.1 242.1,433.3 C245.5,434.5 250.3,435.6 254.5,435.4 C258.6,435.2 263.2,433.7 267.0,432.3 C270.8,430.9 273.9,428.4 277.3,427.1 C280.8,425.8 283.2,424.8 287.7,424.4 C292.2,423.9 299.7,424.3 304.2,424.4 C308.7,424.5 311.2,424.6 314.6,425.0 C318.1,425.4 321.3,426.1 324.9,426.5 C328.5,426.9 332.1,427.0 336.0,427.1 C339.9,427.2 343.9,427.4 348.4,427.1 C352.9,426.9 358.4,425.9 362.9,425.6 C367.4,425.4 371.0,426.2 375.3,425.6 C379.6,425.1 385.0,422.4 388.8,422.3 C392.6,422.2 393.8,423.9 398.1,425.0 C402.4,426.1 409.5,427.4 414.7,429.2 C419.9,431.0 425.4,435.4 429.2,436.0 C433.0,436.6 434.3,432.9 437.4,432.7 C440.5,432.5 444.0,433.8 447.8,434.8 C451.6,435.8 456.4,438.1 460.2,438.5 C464.0,438.9 467.2,437.4 470.6,437.4 C474.1,437.4 477.8,438.7 480.9,438.5 C484.0,438.3 486.6,437.2 489.2,436.4 C491.8,435.6 494.0,434.8 496.2,433.9 C498.4,433.0 500.0,431.4 502.4,431.2 C504.8,431.0 507.2,432.3 510.7,432.7 C514.1,433.1 519.0,433.0 523.1,433.3 C527.2,433.6 531.4,434.1 535.5,434.3 C539.6,434.6 543.9,434.8 548.0,434.8 C552.1,434.8 556.3,434.6 560.4,434.3 C564.5,434.1 569.3,433.6 572.8,433.3 C576.2,433.0 578.3,432.4 581.1,432.3 C583.9,432.2 587.0,431.9 589.4,432.7 C591.8,433.5 593.5,435.6 595.6,437.4 C597.7,439.2 599.6,441.6 601.8,443.7 C604.0,445.8 607.8,448.9 609.0,449.9" fill="none" stroke="#e36464" stroke-width="1.35"/><path d="M25.5,481 L25.5,474.5 L656.5,474.5 L656.5,481" fill="none" stroke="#aaa" stroke-width="2"/><line x1="609.5" y1="470.5" x2="609.5" y2="474" stroke="#aaa" stroke-width="1"/><line x1="614.5" y1="470.5" x2="614.5" y2="474" stroke="#aaa" stroke-width="1"/><line x1="619.5" y1="470.5" x2="619.5" y2="474" stroke="#aaa" stroke-width="1"/><line x1="624.5" y1="470.5" x2="624.5" y2="474" stroke="#aaa" stroke-width="1"/><line x1="629.5" y1="470.5" x2="629.5" y2="474" stroke="#aaa" stroke-width="1"/><line x1="634.5" y1="470.5" x2="634.5" y2="474" stroke="#aaa" stroke-width="1"/><line x1="639.5" y1="470.5" x2="639.5" y2="474" stroke="#aaa" stroke-width="1"/><line x1="644.5" y1="470.5" x2="644.5" y2="474" stroke="#aaa" stroke-width="1"/><line x1="649.5" y1="470.5" x2="649.5" y2="474" stroke="#aaa" stroke-width="1"/><line x1="654.5" y1="470.5" x2="654.5" y2="474" stroke="#aaa" stroke-width="1"/><text x="92.2" y="495.2" fill="#777" font-size="13.8" text-anchor="middle">Sep 19</text><text x="308.2" y="495.2" fill="#777" font-size="13.8" text-anchor="middle">Sep 20</text><text x="514.6" y="495.2" fill="#777" font-size="13.8" text-anchor="middle">Sep 23</text><text x="612.5" y="495.2" fill="#777" font-size="13.8" text-anchor="middle">Sep 24</text>
</svg>
</body></html>
